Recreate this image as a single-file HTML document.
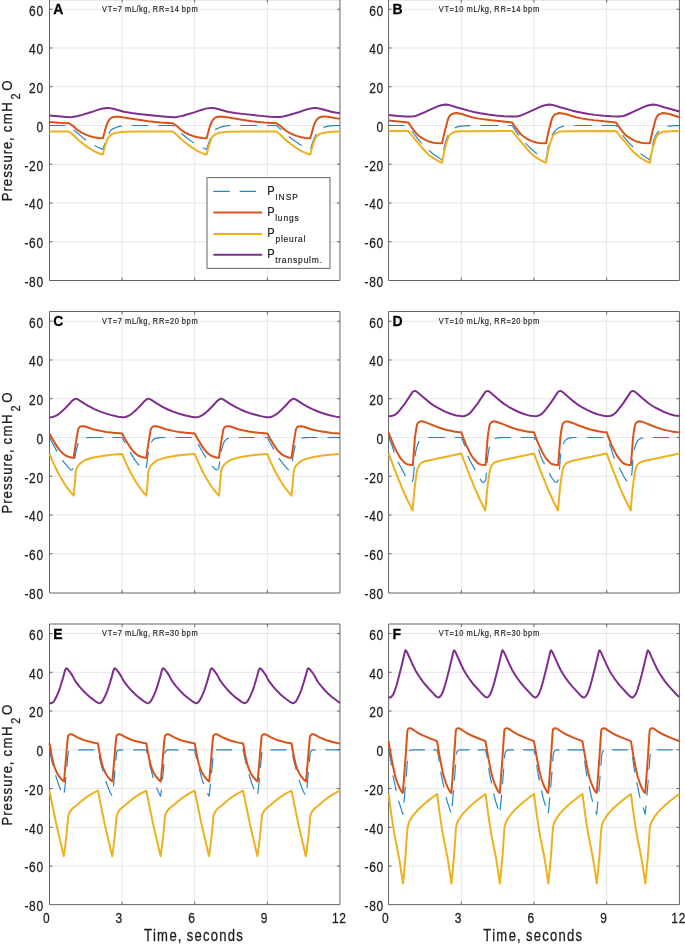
<!DOCTYPE html>
<html><head><meta charset="utf-8"><style>html,body{margin:0;padding:0;background:#fff;overflow:hidden;}svg{display:block;will-change:transform;}</style></head>
<body>
<svg width="685" height="948" viewBox="0 0 685 948">
<rect width="685" height="948" fill="#fff"/>
<path d="M49.50 241.78H339.95M49.50 203.02H339.95M49.50 164.26H339.95M49.50 125.50H339.95M49.50 86.74H339.95M49.50 47.98H339.95M49.50 9.22H339.95M122.11 -0.35V280.50M194.72 -0.35V280.50M267.34 -0.35V280.50" stroke="#e6e6e6" stroke-width="1" fill="none"/>
<path d="M49.50 241.78h2.9M339.95 241.78h-2.9M49.50 203.02h2.9M339.95 203.02h-2.9M49.50 164.26h2.9M339.95 164.26h-2.9M49.50 125.50h2.9M339.95 125.50h-2.9M49.50 86.74h2.9M339.95 86.74h-2.9M49.50 47.98h2.9M339.95 47.98h-2.9M49.50 9.22h2.9M339.95 9.22h-2.9M122.11 280.50v-2.9M122.11 -0.35v2.9M194.72 280.50v-2.9M194.72 -0.35v2.9M267.34 280.50v-2.9M267.34 -0.35v2.9" stroke="#646464" stroke-width="1" fill="none"/>
<path d="M49.50 -0.35H339.95V280.50H49.50Z" stroke="#646464" stroke-width="1" fill="none"/>
<g font-family="Liberation Sans" font-size="13.3" fill="#1e1e1e" stroke="#1e1e1e" stroke-width="0.25"><text transform="translate(26.49 286.80) scale(0.9 1.07)" text-anchor="middle">-</text><text transform="translate(32.40 286.80) scale(0.9 1.07)" text-anchor="middle">8</text><text transform="translate(39.80 286.80) scale(0.9 1.07)" text-anchor="middle">0</text></g>
<g font-family="Liberation Sans" font-size="13.3" fill="#1e1e1e" stroke="#1e1e1e" stroke-width="0.25"><text transform="translate(26.49 248.08) scale(0.9 1.07)" text-anchor="middle">-</text><text transform="translate(32.40 248.08) scale(0.9 1.07)" text-anchor="middle">6</text><text transform="translate(39.80 248.08) scale(0.9 1.07)" text-anchor="middle">0</text></g>
<g font-family="Liberation Sans" font-size="13.3" fill="#1e1e1e" stroke="#1e1e1e" stroke-width="0.25"><text transform="translate(26.49 209.32) scale(0.9 1.07)" text-anchor="middle">-</text><text transform="translate(32.40 209.32) scale(0.9 1.07)" text-anchor="middle">4</text><text transform="translate(39.80 209.32) scale(0.9 1.07)" text-anchor="middle">0</text></g>
<g font-family="Liberation Sans" font-size="13.3" fill="#1e1e1e" stroke="#1e1e1e" stroke-width="0.25"><text transform="translate(26.49 170.56) scale(0.9 1.07)" text-anchor="middle">-</text><text transform="translate(32.40 170.56) scale(0.9 1.07)" text-anchor="middle">2</text><text transform="translate(39.80 170.56) scale(0.9 1.07)" text-anchor="middle">0</text></g>
<g font-family="Liberation Sans" font-size="13.3" fill="#1e1e1e" stroke="#1e1e1e" stroke-width="0.25"><text transform="translate(39.80 131.80) scale(0.9 1.07)" text-anchor="middle">0</text></g>
<g font-family="Liberation Sans" font-size="13.3" fill="#1e1e1e" stroke="#1e1e1e" stroke-width="0.25"><text transform="translate(32.40 93.04) scale(0.9 1.07)" text-anchor="middle">2</text><text transform="translate(39.80 93.04) scale(0.9 1.07)" text-anchor="middle">0</text></g>
<g font-family="Liberation Sans" font-size="13.3" fill="#1e1e1e" stroke="#1e1e1e" stroke-width="0.25"><text transform="translate(32.40 54.28) scale(0.9 1.07)" text-anchor="middle">4</text><text transform="translate(39.80 54.28) scale(0.9 1.07)" text-anchor="middle">0</text></g>
<g font-family="Liberation Sans" font-size="13.3" fill="#1e1e1e" stroke="#1e1e1e" stroke-width="0.25"><text transform="translate(32.40 15.52) scale(0.9 1.07)" text-anchor="middle">6</text><text transform="translate(39.80 15.52) scale(0.9 1.07)" text-anchor="middle">0</text></g>
<g font-family="Liberation Sans" font-size="14" fill="#000" stroke="#000" stroke-width="0.26" font-weight="bold"><text transform="translate(58.36 14.45) scale(1.0 1.0)" text-anchor="middle">A</text></g>
<g font-family="Liberation Sans" font-size="8.5" fill="#1e1e1e" stroke="#1e1e1e" stroke-width="0.16"><text transform="translate(104.55 12.13) scale(0.88 1.13)" text-anchor="middle">V</text><text transform="translate(109.98 12.13) scale(0.88 1.13)" text-anchor="middle">T</text><text transform="translate(115.06 12.13) scale(0.88 1.13)" text-anchor="middle">=</text><text transform="translate(119.90 12.13) scale(0.88 1.13)" text-anchor="middle">7</text><text transform="translate(128.17 12.13) scale(0.88 1.13)" text-anchor="middle">m</text><text transform="translate(134.07 12.13) scale(0.88 1.13)" text-anchor="middle">L</text><text transform="translate(137.61 12.13) scale(0.88 1.13)" text-anchor="middle">/</text><text transform="translate(140.92 12.13) scale(0.88 1.13)" text-anchor="middle">k</text><text transform="translate(145.41 12.13) scale(0.88 1.13)" text-anchor="middle">g</text><text transform="translate(148.95 12.13) scale(0.88 1.13)" text-anchor="middle">,</text><text transform="translate(155.57 12.13) scale(0.88 1.13)" text-anchor="middle">R</text><text transform="translate(161.70 12.13) scale(0.88 1.13)" text-anchor="middle">R</text><text transform="translate(167.25 12.13) scale(0.88 1.13)" text-anchor="middle">=</text><text transform="translate(172.10 12.13) scale(0.88 1.13)" text-anchor="middle">1</text><text transform="translate(176.83 12.13) scale(0.88 1.13)" text-anchor="middle">4</text><text transform="translate(183.92 12.13) scale(0.88 1.13)" text-anchor="middle">b</text><text transform="translate(188.64 12.13) scale(0.88 1.13)" text-anchor="middle">p</text><text transform="translate(194.55 12.13) scale(0.88 1.13)" text-anchor="middle">m</text></g>
<g transform="translate(12.4 201.97) rotate(-90)"><g font-family="Liberation Sans" font-size="15.2" fill="#1e1e1e" stroke="#1e1e1e" stroke-width="0.29"><text transform="translate(5.07 0.00) scale(0.87 1.0)" text-anchor="middle">P</text><text transform="translate(12.67 0.00) scale(0.87 1.0)" text-anchor="middle">r</text><text transform="translate(19.43 0.00) scale(0.87 1.0)" text-anchor="middle">e</text><text transform="translate(27.45 0.00) scale(0.87 1.0)" text-anchor="middle">s</text><text transform="translate(35.05 0.00) scale(0.87 1.0)" text-anchor="middle">s</text><text transform="translate(43.08 0.00) scale(0.87 1.0)" text-anchor="middle">u</text><text transform="translate(49.84 0.00) scale(0.87 1.0)" text-anchor="middle">r</text><text transform="translate(56.60 0.00) scale(0.87 1.0)" text-anchor="middle">e</text><text transform="translate(62.93 0.00) scale(0.87 1.0)" text-anchor="middle">,</text><text transform="translate(73.07 0.00) scale(0.87 1.0)" text-anchor="middle">c</text><text transform="translate(83.20 0.00) scale(0.87 1.0)" text-anchor="middle">m</text><text transform="translate(95.02 0.00) scale(0.87 1.0)" text-anchor="middle">H</text></g><g font-family="Liberation Sans" font-size="12.6" fill="#1e1e1e" stroke="#1e1e1e" stroke-width="0.24"><text transform="translate(105.61 7.20) scale(0.87 1.0)" text-anchor="middle">2</text></g><g font-family="Liberation Sans" font-size="15.2" fill="#1e1e1e" stroke="#1e1e1e" stroke-width="0.29"><text transform="translate(116.43 0.00) scale(0.87 1.0)" text-anchor="middle">O</text></g></g>
<path d="M388.60 241.78H679.40M388.60 203.02H679.40M388.60 164.26H679.40M388.60 125.50H679.40M388.60 86.74H679.40M388.60 47.98H679.40M388.60 9.22H679.40M461.30 -0.35V280.50M534.00 -0.35V280.50M606.70 -0.35V280.50" stroke="#e6e6e6" stroke-width="1" fill="none"/>
<path d="M388.60 241.78h2.9M679.40 241.78h-2.9M388.60 203.02h2.9M679.40 203.02h-2.9M388.60 164.26h2.9M679.40 164.26h-2.9M388.60 125.50h2.9M679.40 125.50h-2.9M388.60 86.74h2.9M679.40 86.74h-2.9M388.60 47.98h2.9M679.40 47.98h-2.9M388.60 9.22h2.9M679.40 9.22h-2.9M461.30 280.50v-2.9M461.30 -0.35v2.9M534.00 280.50v-2.9M534.00 -0.35v2.9M606.70 280.50v-2.9M606.70 -0.35v2.9" stroke="#646464" stroke-width="1" fill="none"/>
<path d="M388.60 -0.35H679.40V280.50H388.60Z" stroke="#646464" stroke-width="1" fill="none"/>
<g font-family="Liberation Sans" font-size="13.3" fill="#1e1e1e" stroke="#1e1e1e" stroke-width="0.25"><text transform="translate(366.59 286.80) scale(0.9 1.07)" text-anchor="middle">-</text><text transform="translate(372.50 286.80) scale(0.9 1.07)" text-anchor="middle">8</text><text transform="translate(379.90 286.80) scale(0.9 1.07)" text-anchor="middle">0</text></g>
<g font-family="Liberation Sans" font-size="13.3" fill="#1e1e1e" stroke="#1e1e1e" stroke-width="0.25"><text transform="translate(366.59 248.08) scale(0.9 1.07)" text-anchor="middle">-</text><text transform="translate(372.50 248.08) scale(0.9 1.07)" text-anchor="middle">6</text><text transform="translate(379.90 248.08) scale(0.9 1.07)" text-anchor="middle">0</text></g>
<g font-family="Liberation Sans" font-size="13.3" fill="#1e1e1e" stroke="#1e1e1e" stroke-width="0.25"><text transform="translate(366.59 209.32) scale(0.9 1.07)" text-anchor="middle">-</text><text transform="translate(372.50 209.32) scale(0.9 1.07)" text-anchor="middle">4</text><text transform="translate(379.90 209.32) scale(0.9 1.07)" text-anchor="middle">0</text></g>
<g font-family="Liberation Sans" font-size="13.3" fill="#1e1e1e" stroke="#1e1e1e" stroke-width="0.25"><text transform="translate(366.59 170.56) scale(0.9 1.07)" text-anchor="middle">-</text><text transform="translate(372.50 170.56) scale(0.9 1.07)" text-anchor="middle">2</text><text transform="translate(379.90 170.56) scale(0.9 1.07)" text-anchor="middle">0</text></g>
<g font-family="Liberation Sans" font-size="13.3" fill="#1e1e1e" stroke="#1e1e1e" stroke-width="0.25"><text transform="translate(379.90 131.80) scale(0.9 1.07)" text-anchor="middle">0</text></g>
<g font-family="Liberation Sans" font-size="13.3" fill="#1e1e1e" stroke="#1e1e1e" stroke-width="0.25"><text transform="translate(372.50 93.04) scale(0.9 1.07)" text-anchor="middle">2</text><text transform="translate(379.90 93.04) scale(0.9 1.07)" text-anchor="middle">0</text></g>
<g font-family="Liberation Sans" font-size="13.3" fill="#1e1e1e" stroke="#1e1e1e" stroke-width="0.25"><text transform="translate(372.50 54.28) scale(0.9 1.07)" text-anchor="middle">4</text><text transform="translate(379.90 54.28) scale(0.9 1.07)" text-anchor="middle">0</text></g>
<g font-family="Liberation Sans" font-size="13.3" fill="#1e1e1e" stroke="#1e1e1e" stroke-width="0.25"><text transform="translate(372.50 15.52) scale(0.9 1.07)" text-anchor="middle">6</text><text transform="translate(379.90 15.52) scale(0.9 1.07)" text-anchor="middle">0</text></g>
<g font-family="Liberation Sans" font-size="14" fill="#000" stroke="#000" stroke-width="0.26" font-weight="bold"><text transform="translate(397.46 14.45) scale(1.0 1.0)" text-anchor="middle">B</text></g>
<g font-family="Liberation Sans" font-size="8.5" fill="#1e1e1e" stroke="#1e1e1e" stroke-width="0.16"><text transform="translate(441.28 12.13) scale(0.88 1.13)" text-anchor="middle">V</text><text transform="translate(446.71 12.13) scale(0.88 1.13)" text-anchor="middle">T</text><text transform="translate(451.79 12.13) scale(0.88 1.13)" text-anchor="middle">=</text><text transform="translate(456.64 12.13) scale(0.88 1.13)" text-anchor="middle">1</text><text transform="translate(461.36 12.13) scale(0.88 1.13)" text-anchor="middle">0</text><text transform="translate(469.63 12.13) scale(0.88 1.13)" text-anchor="middle">m</text><text transform="translate(475.53 12.13) scale(0.88 1.13)" text-anchor="middle">L</text><text transform="translate(479.08 12.13) scale(0.88 1.13)" text-anchor="middle">/</text><text transform="translate(482.38 12.13) scale(0.88 1.13)" text-anchor="middle">k</text><text transform="translate(486.87 12.13) scale(0.88 1.13)" text-anchor="middle">g</text><text transform="translate(490.42 12.13) scale(0.88 1.13)" text-anchor="middle">,</text><text transform="translate(497.03 12.13) scale(0.88 1.13)" text-anchor="middle">R</text><text transform="translate(503.17 12.13) scale(0.88 1.13)" text-anchor="middle">R</text><text transform="translate(508.72 12.13) scale(0.88 1.13)" text-anchor="middle">=</text><text transform="translate(513.56 12.13) scale(0.88 1.13)" text-anchor="middle">1</text><text transform="translate(518.29 12.13) scale(0.88 1.13)" text-anchor="middle">4</text><text transform="translate(525.38 12.13) scale(0.88 1.13)" text-anchor="middle">b</text><text transform="translate(530.11 12.13) scale(0.88 1.13)" text-anchor="middle">p</text><text transform="translate(536.01 12.13) scale(0.88 1.13)" text-anchor="middle">m</text></g>
<path d="M49.50 553.78H339.95M49.50 515.02H339.95M49.50 476.26H339.95M49.50 437.50H339.95M49.50 398.74H339.95M49.50 359.98H339.95M49.50 321.22H339.95M122.11 311.50V593.00M194.72 311.50V593.00M267.34 311.50V593.00" stroke="#e6e6e6" stroke-width="1" fill="none"/>
<path d="M49.50 553.78h2.9M339.95 553.78h-2.9M49.50 515.02h2.9M339.95 515.02h-2.9M49.50 476.26h2.9M339.95 476.26h-2.9M49.50 437.50h2.9M339.95 437.50h-2.9M49.50 398.74h2.9M339.95 398.74h-2.9M49.50 359.98h2.9M339.95 359.98h-2.9M49.50 321.22h2.9M339.95 321.22h-2.9M122.11 593.00v-2.9M122.11 311.50v2.9M194.72 593.00v-2.9M194.72 311.50v2.9M267.34 593.00v-2.9M267.34 311.50v2.9" stroke="#646464" stroke-width="1" fill="none"/>
<path d="M49.50 311.50H339.95V593.00H49.50Z" stroke="#646464" stroke-width="1" fill="none"/>
<g font-family="Liberation Sans" font-size="13.3" fill="#1e1e1e" stroke="#1e1e1e" stroke-width="0.25"><text transform="translate(26.49 599.30) scale(0.9 1.07)" text-anchor="middle">-</text><text transform="translate(32.40 599.30) scale(0.9 1.07)" text-anchor="middle">8</text><text transform="translate(39.80 599.30) scale(0.9 1.07)" text-anchor="middle">0</text></g>
<g font-family="Liberation Sans" font-size="13.3" fill="#1e1e1e" stroke="#1e1e1e" stroke-width="0.25"><text transform="translate(26.49 560.08) scale(0.9 1.07)" text-anchor="middle">-</text><text transform="translate(32.40 560.08) scale(0.9 1.07)" text-anchor="middle">6</text><text transform="translate(39.80 560.08) scale(0.9 1.07)" text-anchor="middle">0</text></g>
<g font-family="Liberation Sans" font-size="13.3" fill="#1e1e1e" stroke="#1e1e1e" stroke-width="0.25"><text transform="translate(26.49 521.32) scale(0.9 1.07)" text-anchor="middle">-</text><text transform="translate(32.40 521.32) scale(0.9 1.07)" text-anchor="middle">4</text><text transform="translate(39.80 521.32) scale(0.9 1.07)" text-anchor="middle">0</text></g>
<g font-family="Liberation Sans" font-size="13.3" fill="#1e1e1e" stroke="#1e1e1e" stroke-width="0.25"><text transform="translate(26.49 482.56) scale(0.9 1.07)" text-anchor="middle">-</text><text transform="translate(32.40 482.56) scale(0.9 1.07)" text-anchor="middle">2</text><text transform="translate(39.80 482.56) scale(0.9 1.07)" text-anchor="middle">0</text></g>
<g font-family="Liberation Sans" font-size="13.3" fill="#1e1e1e" stroke="#1e1e1e" stroke-width="0.25"><text transform="translate(39.80 443.80) scale(0.9 1.07)" text-anchor="middle">0</text></g>
<g font-family="Liberation Sans" font-size="13.3" fill="#1e1e1e" stroke="#1e1e1e" stroke-width="0.25"><text transform="translate(32.40 405.04) scale(0.9 1.07)" text-anchor="middle">2</text><text transform="translate(39.80 405.04) scale(0.9 1.07)" text-anchor="middle">0</text></g>
<g font-family="Liberation Sans" font-size="13.3" fill="#1e1e1e" stroke="#1e1e1e" stroke-width="0.25"><text transform="translate(32.40 366.28) scale(0.9 1.07)" text-anchor="middle">4</text><text transform="translate(39.80 366.28) scale(0.9 1.07)" text-anchor="middle">0</text></g>
<g font-family="Liberation Sans" font-size="13.3" fill="#1e1e1e" stroke="#1e1e1e" stroke-width="0.25"><text transform="translate(32.40 327.52) scale(0.9 1.07)" text-anchor="middle">6</text><text transform="translate(39.80 327.52) scale(0.9 1.07)" text-anchor="middle">0</text></g>
<g font-family="Liberation Sans" font-size="14" fill="#000" stroke="#000" stroke-width="0.26" font-weight="bold"><text transform="translate(58.36 326.30) scale(1.0 1.0)" text-anchor="middle">C</text></g>
<g font-family="Liberation Sans" font-size="8.5" fill="#1e1e1e" stroke="#1e1e1e" stroke-width="0.16"><text transform="translate(104.55 324.13) scale(0.88 1.13)" text-anchor="middle">V</text><text transform="translate(109.98 324.13) scale(0.88 1.13)" text-anchor="middle">T</text><text transform="translate(115.06 324.13) scale(0.88 1.13)" text-anchor="middle">=</text><text transform="translate(119.90 324.13) scale(0.88 1.13)" text-anchor="middle">7</text><text transform="translate(128.17 324.13) scale(0.88 1.13)" text-anchor="middle">m</text><text transform="translate(134.07 324.13) scale(0.88 1.13)" text-anchor="middle">L</text><text transform="translate(137.61 324.13) scale(0.88 1.13)" text-anchor="middle">/</text><text transform="translate(140.92 324.13) scale(0.88 1.13)" text-anchor="middle">k</text><text transform="translate(145.41 324.13) scale(0.88 1.13)" text-anchor="middle">g</text><text transform="translate(148.95 324.13) scale(0.88 1.13)" text-anchor="middle">,</text><text transform="translate(155.57 324.13) scale(0.88 1.13)" text-anchor="middle">R</text><text transform="translate(161.70 324.13) scale(0.88 1.13)" text-anchor="middle">R</text><text transform="translate(167.25 324.13) scale(0.88 1.13)" text-anchor="middle">=</text><text transform="translate(172.10 324.13) scale(0.88 1.13)" text-anchor="middle">2</text><text transform="translate(176.83 324.13) scale(0.88 1.13)" text-anchor="middle">0</text><text transform="translate(183.92 324.13) scale(0.88 1.13)" text-anchor="middle">b</text><text transform="translate(188.64 324.13) scale(0.88 1.13)" text-anchor="middle">p</text><text transform="translate(194.55 324.13) scale(0.88 1.13)" text-anchor="middle">m</text></g>
<g transform="translate(12.4 514.15) rotate(-90)"><g font-family="Liberation Sans" font-size="15.2" fill="#1e1e1e" stroke="#1e1e1e" stroke-width="0.29"><text transform="translate(5.07 0.00) scale(0.87 1.0)" text-anchor="middle">P</text><text transform="translate(12.67 0.00) scale(0.87 1.0)" text-anchor="middle">r</text><text transform="translate(19.43 0.00) scale(0.87 1.0)" text-anchor="middle">e</text><text transform="translate(27.45 0.00) scale(0.87 1.0)" text-anchor="middle">s</text><text transform="translate(35.05 0.00) scale(0.87 1.0)" text-anchor="middle">s</text><text transform="translate(43.08 0.00) scale(0.87 1.0)" text-anchor="middle">u</text><text transform="translate(49.84 0.00) scale(0.87 1.0)" text-anchor="middle">r</text><text transform="translate(56.60 0.00) scale(0.87 1.0)" text-anchor="middle">e</text><text transform="translate(62.93 0.00) scale(0.87 1.0)" text-anchor="middle">,</text><text transform="translate(73.07 0.00) scale(0.87 1.0)" text-anchor="middle">c</text><text transform="translate(83.20 0.00) scale(0.87 1.0)" text-anchor="middle">m</text><text transform="translate(95.02 0.00) scale(0.87 1.0)" text-anchor="middle">H</text></g><g font-family="Liberation Sans" font-size="12.6" fill="#1e1e1e" stroke="#1e1e1e" stroke-width="0.24"><text transform="translate(105.61 7.20) scale(0.87 1.0)" text-anchor="middle">2</text></g><g font-family="Liberation Sans" font-size="15.2" fill="#1e1e1e" stroke="#1e1e1e" stroke-width="0.29"><text transform="translate(116.43 0.00) scale(0.87 1.0)" text-anchor="middle">O</text></g></g>
<path d="M388.60 553.78H679.40M388.60 515.02H679.40M388.60 476.26H679.40M388.60 437.50H679.40M388.60 398.74H679.40M388.60 359.98H679.40M388.60 321.22H679.40M461.30 311.50V593.00M534.00 311.50V593.00M606.70 311.50V593.00" stroke="#e6e6e6" stroke-width="1" fill="none"/>
<path d="M388.60 553.78h2.9M679.40 553.78h-2.9M388.60 515.02h2.9M679.40 515.02h-2.9M388.60 476.26h2.9M679.40 476.26h-2.9M388.60 437.50h2.9M679.40 437.50h-2.9M388.60 398.74h2.9M679.40 398.74h-2.9M388.60 359.98h2.9M679.40 359.98h-2.9M388.60 321.22h2.9M679.40 321.22h-2.9M461.30 593.00v-2.9M461.30 311.50v2.9M534.00 593.00v-2.9M534.00 311.50v2.9M606.70 593.00v-2.9M606.70 311.50v2.9" stroke="#646464" stroke-width="1" fill="none"/>
<path d="M388.60 311.50H679.40V593.00H388.60Z" stroke="#646464" stroke-width="1" fill="none"/>
<g font-family="Liberation Sans" font-size="13.3" fill="#1e1e1e" stroke="#1e1e1e" stroke-width="0.25"><text transform="translate(366.59 599.30) scale(0.9 1.07)" text-anchor="middle">-</text><text transform="translate(372.50 599.30) scale(0.9 1.07)" text-anchor="middle">8</text><text transform="translate(379.90 599.30) scale(0.9 1.07)" text-anchor="middle">0</text></g>
<g font-family="Liberation Sans" font-size="13.3" fill="#1e1e1e" stroke="#1e1e1e" stroke-width="0.25"><text transform="translate(366.59 560.08) scale(0.9 1.07)" text-anchor="middle">-</text><text transform="translate(372.50 560.08) scale(0.9 1.07)" text-anchor="middle">6</text><text transform="translate(379.90 560.08) scale(0.9 1.07)" text-anchor="middle">0</text></g>
<g font-family="Liberation Sans" font-size="13.3" fill="#1e1e1e" stroke="#1e1e1e" stroke-width="0.25"><text transform="translate(366.59 521.32) scale(0.9 1.07)" text-anchor="middle">-</text><text transform="translate(372.50 521.32) scale(0.9 1.07)" text-anchor="middle">4</text><text transform="translate(379.90 521.32) scale(0.9 1.07)" text-anchor="middle">0</text></g>
<g font-family="Liberation Sans" font-size="13.3" fill="#1e1e1e" stroke="#1e1e1e" stroke-width="0.25"><text transform="translate(366.59 482.56) scale(0.9 1.07)" text-anchor="middle">-</text><text transform="translate(372.50 482.56) scale(0.9 1.07)" text-anchor="middle">2</text><text transform="translate(379.90 482.56) scale(0.9 1.07)" text-anchor="middle">0</text></g>
<g font-family="Liberation Sans" font-size="13.3" fill="#1e1e1e" stroke="#1e1e1e" stroke-width="0.25"><text transform="translate(379.90 443.80) scale(0.9 1.07)" text-anchor="middle">0</text></g>
<g font-family="Liberation Sans" font-size="13.3" fill="#1e1e1e" stroke="#1e1e1e" stroke-width="0.25"><text transform="translate(372.50 405.04) scale(0.9 1.07)" text-anchor="middle">2</text><text transform="translate(379.90 405.04) scale(0.9 1.07)" text-anchor="middle">0</text></g>
<g font-family="Liberation Sans" font-size="13.3" fill="#1e1e1e" stroke="#1e1e1e" stroke-width="0.25"><text transform="translate(372.50 366.28) scale(0.9 1.07)" text-anchor="middle">4</text><text transform="translate(379.90 366.28) scale(0.9 1.07)" text-anchor="middle">0</text></g>
<g font-family="Liberation Sans" font-size="13.3" fill="#1e1e1e" stroke="#1e1e1e" stroke-width="0.25"><text transform="translate(372.50 327.52) scale(0.9 1.07)" text-anchor="middle">6</text><text transform="translate(379.90 327.52) scale(0.9 1.07)" text-anchor="middle">0</text></g>
<g font-family="Liberation Sans" font-size="14" fill="#000" stroke="#000" stroke-width="0.26" font-weight="bold"><text transform="translate(397.46 326.30) scale(1.0 1.0)" text-anchor="middle">D</text></g>
<g font-family="Liberation Sans" font-size="8.5" fill="#1e1e1e" stroke="#1e1e1e" stroke-width="0.16"><text transform="translate(441.28 324.13) scale(0.88 1.13)" text-anchor="middle">V</text><text transform="translate(446.71 324.13) scale(0.88 1.13)" text-anchor="middle">T</text><text transform="translate(451.79 324.13) scale(0.88 1.13)" text-anchor="middle">=</text><text transform="translate(456.64 324.13) scale(0.88 1.13)" text-anchor="middle">1</text><text transform="translate(461.36 324.13) scale(0.88 1.13)" text-anchor="middle">0</text><text transform="translate(469.63 324.13) scale(0.88 1.13)" text-anchor="middle">m</text><text transform="translate(475.53 324.13) scale(0.88 1.13)" text-anchor="middle">L</text><text transform="translate(479.08 324.13) scale(0.88 1.13)" text-anchor="middle">/</text><text transform="translate(482.38 324.13) scale(0.88 1.13)" text-anchor="middle">k</text><text transform="translate(486.87 324.13) scale(0.88 1.13)" text-anchor="middle">g</text><text transform="translate(490.42 324.13) scale(0.88 1.13)" text-anchor="middle">,</text><text transform="translate(497.03 324.13) scale(0.88 1.13)" text-anchor="middle">R</text><text transform="translate(503.17 324.13) scale(0.88 1.13)" text-anchor="middle">R</text><text transform="translate(508.72 324.13) scale(0.88 1.13)" text-anchor="middle">=</text><text transform="translate(513.56 324.13) scale(0.88 1.13)" text-anchor="middle">2</text><text transform="translate(518.29 324.13) scale(0.88 1.13)" text-anchor="middle">0</text><text transform="translate(525.38 324.13) scale(0.88 1.13)" text-anchor="middle">b</text><text transform="translate(530.11 324.13) scale(0.88 1.13)" text-anchor="middle">p</text><text transform="translate(536.01 324.13) scale(0.88 1.13)" text-anchor="middle">m</text></g>
<path d="M49.50 866.08H339.95M49.50 827.32H339.95M49.50 788.56H339.95M49.50 749.80H339.95M49.50 711.04H339.95M49.50 672.28H339.95M49.50 633.52H339.95M122.11 624.00V904.65M194.72 624.00V904.65M267.34 624.00V904.65" stroke="#e6e6e6" stroke-width="1" fill="none"/>
<path d="M49.50 866.08h2.9M339.95 866.08h-2.9M49.50 827.32h2.9M339.95 827.32h-2.9M49.50 788.56h2.9M339.95 788.56h-2.9M49.50 749.80h2.9M339.95 749.80h-2.9M49.50 711.04h2.9M339.95 711.04h-2.9M49.50 672.28h2.9M339.95 672.28h-2.9M49.50 633.52h2.9M339.95 633.52h-2.9M122.11 904.65v-2.9M122.11 624.00v2.9M194.72 904.65v-2.9M194.72 624.00v2.9M267.34 904.65v-2.9M267.34 624.00v2.9" stroke="#646464" stroke-width="1" fill="none"/>
<path d="M49.50 624.00H339.95V904.65H49.50Z" stroke="#646464" stroke-width="1" fill="none"/>
<g font-family="Liberation Sans" font-size="13.3" fill="#1e1e1e" stroke="#1e1e1e" stroke-width="0.25"><text transform="translate(26.49 910.95) scale(0.9 1.07)" text-anchor="middle">-</text><text transform="translate(32.40 910.95) scale(0.9 1.07)" text-anchor="middle">8</text><text transform="translate(39.80 910.95) scale(0.9 1.07)" text-anchor="middle">0</text></g>
<g font-family="Liberation Sans" font-size="13.3" fill="#1e1e1e" stroke="#1e1e1e" stroke-width="0.25"><text transform="translate(26.49 872.38) scale(0.9 1.07)" text-anchor="middle">-</text><text transform="translate(32.40 872.38) scale(0.9 1.07)" text-anchor="middle">6</text><text transform="translate(39.80 872.38) scale(0.9 1.07)" text-anchor="middle">0</text></g>
<g font-family="Liberation Sans" font-size="13.3" fill="#1e1e1e" stroke="#1e1e1e" stroke-width="0.25"><text transform="translate(26.49 833.62) scale(0.9 1.07)" text-anchor="middle">-</text><text transform="translate(32.40 833.62) scale(0.9 1.07)" text-anchor="middle">4</text><text transform="translate(39.80 833.62) scale(0.9 1.07)" text-anchor="middle">0</text></g>
<g font-family="Liberation Sans" font-size="13.3" fill="#1e1e1e" stroke="#1e1e1e" stroke-width="0.25"><text transform="translate(26.49 794.86) scale(0.9 1.07)" text-anchor="middle">-</text><text transform="translate(32.40 794.86) scale(0.9 1.07)" text-anchor="middle">2</text><text transform="translate(39.80 794.86) scale(0.9 1.07)" text-anchor="middle">0</text></g>
<g font-family="Liberation Sans" font-size="13.3" fill="#1e1e1e" stroke="#1e1e1e" stroke-width="0.25"><text transform="translate(39.80 756.10) scale(0.9 1.07)" text-anchor="middle">0</text></g>
<g font-family="Liberation Sans" font-size="13.3" fill="#1e1e1e" stroke="#1e1e1e" stroke-width="0.25"><text transform="translate(32.40 717.34) scale(0.9 1.07)" text-anchor="middle">2</text><text transform="translate(39.80 717.34) scale(0.9 1.07)" text-anchor="middle">0</text></g>
<g font-family="Liberation Sans" font-size="13.3" fill="#1e1e1e" stroke="#1e1e1e" stroke-width="0.25"><text transform="translate(32.40 678.58) scale(0.9 1.07)" text-anchor="middle">4</text><text transform="translate(39.80 678.58) scale(0.9 1.07)" text-anchor="middle">0</text></g>
<g font-family="Liberation Sans" font-size="13.3" fill="#1e1e1e" stroke="#1e1e1e" stroke-width="0.25"><text transform="translate(32.40 639.82) scale(0.9 1.07)" text-anchor="middle">6</text><text transform="translate(39.80 639.82) scale(0.9 1.07)" text-anchor="middle">0</text></g>
<g font-family="Liberation Sans" font-size="14" fill="#000" stroke="#000" stroke-width="0.26" font-weight="bold"><text transform="translate(57.97 638.80) scale(1.0 1.0)" text-anchor="middle">E</text></g>
<g font-family="Liberation Sans" font-size="8.5" fill="#1e1e1e" stroke="#1e1e1e" stroke-width="0.16"><text transform="translate(104.55 636.43) scale(0.88 1.13)" text-anchor="middle">V</text><text transform="translate(109.98 636.43) scale(0.88 1.13)" text-anchor="middle">T</text><text transform="translate(115.06 636.43) scale(0.88 1.13)" text-anchor="middle">=</text><text transform="translate(119.90 636.43) scale(0.88 1.13)" text-anchor="middle">7</text><text transform="translate(128.17 636.43) scale(0.88 1.13)" text-anchor="middle">m</text><text transform="translate(134.07 636.43) scale(0.88 1.13)" text-anchor="middle">L</text><text transform="translate(137.61 636.43) scale(0.88 1.13)" text-anchor="middle">/</text><text transform="translate(140.92 636.43) scale(0.88 1.13)" text-anchor="middle">k</text><text transform="translate(145.41 636.43) scale(0.88 1.13)" text-anchor="middle">g</text><text transform="translate(148.95 636.43) scale(0.88 1.13)" text-anchor="middle">,</text><text transform="translate(155.57 636.43) scale(0.88 1.13)" text-anchor="middle">R</text><text transform="translate(161.70 636.43) scale(0.88 1.13)" text-anchor="middle">R</text><text transform="translate(167.25 636.43) scale(0.88 1.13)" text-anchor="middle">=</text><text transform="translate(172.10 636.43) scale(0.88 1.13)" text-anchor="middle">3</text><text transform="translate(176.83 636.43) scale(0.88 1.13)" text-anchor="middle">0</text><text transform="translate(183.92 636.43) scale(0.88 1.13)" text-anchor="middle">b</text><text transform="translate(188.64 636.43) scale(0.88 1.13)" text-anchor="middle">p</text><text transform="translate(194.55 636.43) scale(0.88 1.13)" text-anchor="middle">m</text></g>
<g transform="translate(12.4 826.23) rotate(-90)"><g font-family="Liberation Sans" font-size="15.2" fill="#1e1e1e" stroke="#1e1e1e" stroke-width="0.29"><text transform="translate(5.07 0.00) scale(0.87 1.0)" text-anchor="middle">P</text><text transform="translate(12.67 0.00) scale(0.87 1.0)" text-anchor="middle">r</text><text transform="translate(19.43 0.00) scale(0.87 1.0)" text-anchor="middle">e</text><text transform="translate(27.45 0.00) scale(0.87 1.0)" text-anchor="middle">s</text><text transform="translate(35.05 0.00) scale(0.87 1.0)" text-anchor="middle">s</text><text transform="translate(43.08 0.00) scale(0.87 1.0)" text-anchor="middle">u</text><text transform="translate(49.84 0.00) scale(0.87 1.0)" text-anchor="middle">r</text><text transform="translate(56.60 0.00) scale(0.87 1.0)" text-anchor="middle">e</text><text transform="translate(62.93 0.00) scale(0.87 1.0)" text-anchor="middle">,</text><text transform="translate(73.07 0.00) scale(0.87 1.0)" text-anchor="middle">c</text><text transform="translate(83.20 0.00) scale(0.87 1.0)" text-anchor="middle">m</text><text transform="translate(95.02 0.00) scale(0.87 1.0)" text-anchor="middle">H</text></g><g font-family="Liberation Sans" font-size="12.6" fill="#1e1e1e" stroke="#1e1e1e" stroke-width="0.24"><text transform="translate(105.61 7.20) scale(0.87 1.0)" text-anchor="middle">2</text></g><g font-family="Liberation Sans" font-size="15.2" fill="#1e1e1e" stroke="#1e1e1e" stroke-width="0.29"><text transform="translate(116.43 0.00) scale(0.87 1.0)" text-anchor="middle">O</text></g></g>
<path d="M388.60 866.08H679.40M388.60 827.32H679.40M388.60 788.56H679.40M388.60 749.80H679.40M388.60 711.04H679.40M388.60 672.28H679.40M388.60 633.52H679.40M461.30 624.00V904.65M534.00 624.00V904.65M606.70 624.00V904.65" stroke="#e6e6e6" stroke-width="1" fill="none"/>
<path d="M388.60 866.08h2.9M679.40 866.08h-2.9M388.60 827.32h2.9M679.40 827.32h-2.9M388.60 788.56h2.9M679.40 788.56h-2.9M388.60 749.80h2.9M679.40 749.80h-2.9M388.60 711.04h2.9M679.40 711.04h-2.9M388.60 672.28h2.9M679.40 672.28h-2.9M388.60 633.52h2.9M679.40 633.52h-2.9M461.30 904.65v-2.9M461.30 624.00v2.9M534.00 904.65v-2.9M534.00 624.00v2.9M606.70 904.65v-2.9M606.70 624.00v2.9" stroke="#646464" stroke-width="1" fill="none"/>
<path d="M388.60 624.00H679.40V904.65H388.60Z" stroke="#646464" stroke-width="1" fill="none"/>
<g font-family="Liberation Sans" font-size="13.3" fill="#1e1e1e" stroke="#1e1e1e" stroke-width="0.25"><text transform="translate(366.59 910.95) scale(0.9 1.07)" text-anchor="middle">-</text><text transform="translate(372.50 910.95) scale(0.9 1.07)" text-anchor="middle">8</text><text transform="translate(379.90 910.95) scale(0.9 1.07)" text-anchor="middle">0</text></g>
<g font-family="Liberation Sans" font-size="13.3" fill="#1e1e1e" stroke="#1e1e1e" stroke-width="0.25"><text transform="translate(366.59 872.38) scale(0.9 1.07)" text-anchor="middle">-</text><text transform="translate(372.50 872.38) scale(0.9 1.07)" text-anchor="middle">6</text><text transform="translate(379.90 872.38) scale(0.9 1.07)" text-anchor="middle">0</text></g>
<g font-family="Liberation Sans" font-size="13.3" fill="#1e1e1e" stroke="#1e1e1e" stroke-width="0.25"><text transform="translate(366.59 833.62) scale(0.9 1.07)" text-anchor="middle">-</text><text transform="translate(372.50 833.62) scale(0.9 1.07)" text-anchor="middle">4</text><text transform="translate(379.90 833.62) scale(0.9 1.07)" text-anchor="middle">0</text></g>
<g font-family="Liberation Sans" font-size="13.3" fill="#1e1e1e" stroke="#1e1e1e" stroke-width="0.25"><text transform="translate(366.59 794.86) scale(0.9 1.07)" text-anchor="middle">-</text><text transform="translate(372.50 794.86) scale(0.9 1.07)" text-anchor="middle">2</text><text transform="translate(379.90 794.86) scale(0.9 1.07)" text-anchor="middle">0</text></g>
<g font-family="Liberation Sans" font-size="13.3" fill="#1e1e1e" stroke="#1e1e1e" stroke-width="0.25"><text transform="translate(379.90 756.10) scale(0.9 1.07)" text-anchor="middle">0</text></g>
<g font-family="Liberation Sans" font-size="13.3" fill="#1e1e1e" stroke="#1e1e1e" stroke-width="0.25"><text transform="translate(372.50 717.34) scale(0.9 1.07)" text-anchor="middle">2</text><text transform="translate(379.90 717.34) scale(0.9 1.07)" text-anchor="middle">0</text></g>
<g font-family="Liberation Sans" font-size="13.3" fill="#1e1e1e" stroke="#1e1e1e" stroke-width="0.25"><text transform="translate(372.50 678.58) scale(0.9 1.07)" text-anchor="middle">4</text><text transform="translate(379.90 678.58) scale(0.9 1.07)" text-anchor="middle">0</text></g>
<g font-family="Liberation Sans" font-size="13.3" fill="#1e1e1e" stroke="#1e1e1e" stroke-width="0.25"><text transform="translate(372.50 639.82) scale(0.9 1.07)" text-anchor="middle">6</text><text transform="translate(379.90 639.82) scale(0.9 1.07)" text-anchor="middle">0</text></g>
<g font-family="Liberation Sans" font-size="14" fill="#000" stroke="#000" stroke-width="0.26" font-weight="bold"><text transform="translate(396.68 638.80) scale(1.0 1.0)" text-anchor="middle">F</text></g>
<g font-family="Liberation Sans" font-size="8.5" fill="#1e1e1e" stroke="#1e1e1e" stroke-width="0.16"><text transform="translate(441.28 636.43) scale(0.88 1.13)" text-anchor="middle">V</text><text transform="translate(446.71 636.43) scale(0.88 1.13)" text-anchor="middle">T</text><text transform="translate(451.79 636.43) scale(0.88 1.13)" text-anchor="middle">=</text><text transform="translate(456.64 636.43) scale(0.88 1.13)" text-anchor="middle">1</text><text transform="translate(461.36 636.43) scale(0.88 1.13)" text-anchor="middle">0</text><text transform="translate(469.63 636.43) scale(0.88 1.13)" text-anchor="middle">m</text><text transform="translate(475.53 636.43) scale(0.88 1.13)" text-anchor="middle">L</text><text transform="translate(479.08 636.43) scale(0.88 1.13)" text-anchor="middle">/</text><text transform="translate(482.38 636.43) scale(0.88 1.13)" text-anchor="middle">k</text><text transform="translate(486.87 636.43) scale(0.88 1.13)" text-anchor="middle">g</text><text transform="translate(490.42 636.43) scale(0.88 1.13)" text-anchor="middle">,</text><text transform="translate(497.03 636.43) scale(0.88 1.13)" text-anchor="middle">R</text><text transform="translate(503.17 636.43) scale(0.88 1.13)" text-anchor="middle">R</text><text transform="translate(508.72 636.43) scale(0.88 1.13)" text-anchor="middle">=</text><text transform="translate(513.56 636.43) scale(0.88 1.13)" text-anchor="middle">3</text><text transform="translate(518.29 636.43) scale(0.88 1.13)" text-anchor="middle">0</text><text transform="translate(525.38 636.43) scale(0.88 1.13)" text-anchor="middle">b</text><text transform="translate(530.11 636.43) scale(0.88 1.13)" text-anchor="middle">p</text><text transform="translate(536.01 636.43) scale(0.88 1.13)" text-anchor="middle">m</text></g>
<g font-family="Liberation Sans" font-size="13.3" fill="#1e1e1e" stroke="#1e1e1e" stroke-width="0.25"><text transform="translate(46.30 923.40) scale(0.9 1.07)" text-anchor="middle">0</text></g>
<g font-family="Liberation Sans" font-size="13.3" fill="#1e1e1e" stroke="#1e1e1e" stroke-width="0.25"><text transform="translate(118.91 923.40) scale(0.9 1.07)" text-anchor="middle">3</text></g>
<g font-family="Liberation Sans" font-size="13.3" fill="#1e1e1e" stroke="#1e1e1e" stroke-width="0.25"><text transform="translate(191.53 923.40) scale(0.9 1.07)" text-anchor="middle">6</text></g>
<g font-family="Liberation Sans" font-size="13.3" fill="#1e1e1e" stroke="#1e1e1e" stroke-width="0.25"><text transform="translate(264.14 923.40) scale(0.9 1.07)" text-anchor="middle">9</text></g>
<g font-family="Liberation Sans" font-size="13.3" fill="#1e1e1e" stroke="#1e1e1e" stroke-width="0.25"><text transform="translate(335.25 923.40) scale(0.9 1.07)" text-anchor="middle">1</text><text transform="translate(342.65 923.40) scale(0.9 1.07)" text-anchor="middle">2</text></g>
<g font-family="Liberation Sans" font-size="15" fill="#1e1e1e" stroke="#1e1e1e" stroke-width="0.28"><text transform="translate(147.94 940.70) scale(0.87 1.07)" text-anchor="middle">T</text><text transform="translate(154.39 940.70) scale(0.87 1.07)" text-anchor="middle">i</text><text transform="translate(162.50 940.70) scale(0.87 1.07)" text-anchor="middle">m</text><text transform="translate(173.12 940.70) scale(0.87 1.07)" text-anchor="middle">e</text><text transform="translate(179.57 940.70) scale(0.87 1.07)" text-anchor="middle">,</text><text transform="translate(189.97 940.70) scale(0.87 1.07)" text-anchor="middle">s</text><text transform="translate(198.10 940.70) scale(0.87 1.07)" text-anchor="middle">e</text><text transform="translate(206.22 940.70) scale(0.87 1.07)" text-anchor="middle">c</text><text transform="translate(214.34 940.70) scale(0.87 1.07)" text-anchor="middle">o</text><text transform="translate(222.88 940.70) scale(0.87 1.07)" text-anchor="middle">n</text><text transform="translate(231.42 940.70) scale(0.87 1.07)" text-anchor="middle">d</text><text transform="translate(239.54 940.70) scale(0.87 1.07)" text-anchor="middle">s</text></g>
<g font-family="Liberation Sans" font-size="13.3" fill="#1e1e1e" stroke="#1e1e1e" stroke-width="0.25"><text transform="translate(385.40 923.40) scale(0.9 1.07)" text-anchor="middle">0</text></g>
<g font-family="Liberation Sans" font-size="13.3" fill="#1e1e1e" stroke="#1e1e1e" stroke-width="0.25"><text transform="translate(458.10 923.40) scale(0.9 1.07)" text-anchor="middle">3</text></g>
<g font-family="Liberation Sans" font-size="13.3" fill="#1e1e1e" stroke="#1e1e1e" stroke-width="0.25"><text transform="translate(530.80 923.40) scale(0.9 1.07)" text-anchor="middle">6</text></g>
<g font-family="Liberation Sans" font-size="13.3" fill="#1e1e1e" stroke="#1e1e1e" stroke-width="0.25"><text transform="translate(603.50 923.40) scale(0.9 1.07)" text-anchor="middle">9</text></g>
<g font-family="Liberation Sans" font-size="13.3" fill="#1e1e1e" stroke="#1e1e1e" stroke-width="0.25"><text transform="translate(674.70 923.40) scale(0.9 1.07)" text-anchor="middle">1</text><text transform="translate(682.10 923.40) scale(0.9 1.07)" text-anchor="middle">2</text></g>
<g font-family="Liberation Sans" font-size="15" fill="#1e1e1e" stroke="#1e1e1e" stroke-width="0.28"><text transform="translate(487.21 940.70) scale(0.87 1.07)" text-anchor="middle">T</text><text transform="translate(493.66 940.70) scale(0.87 1.07)" text-anchor="middle">i</text><text transform="translate(501.77 940.70) scale(0.87 1.07)" text-anchor="middle">m</text><text transform="translate(512.39 940.70) scale(0.87 1.07)" text-anchor="middle">e</text><text transform="translate(518.85 940.70) scale(0.87 1.07)" text-anchor="middle">,</text><text transform="translate(529.25 940.70) scale(0.87 1.07)" text-anchor="middle">s</text><text transform="translate(537.37 940.70) scale(0.87 1.07)" text-anchor="middle">e</text><text transform="translate(545.49 940.70) scale(0.87 1.07)" text-anchor="middle">c</text><text transform="translate(553.61 940.70) scale(0.87 1.07)" text-anchor="middle">o</text><text transform="translate(562.15 940.70) scale(0.87 1.07)" text-anchor="middle">n</text><text transform="translate(570.70 940.70) scale(0.87 1.07)" text-anchor="middle">d</text><text transform="translate(578.82 940.70) scale(0.87 1.07)" text-anchor="middle">s</text></g>
<path d="M49.50 125.50L68.98 125.50 77.09 132.82 83.75 138.39 87.86 141.54 90.77 143.46 94.28 145.46 99.36 147.99 102.87 149.53 104.93 143.11 106.74 138.39 109.77 132.05 110.74 130.47 111.58 129.51 113.28 128.61 116.06 127.48 118.60 126.67 121.14 126.08 125.50 125.54 132.16 125.50" stroke="#0072BD" stroke-width="1.2" fill="none" stroke-linejoin="round" stroke-dasharray="16 10" stroke-opacity="0.85"/>
<path d="M132.20 125.50L172.70 125.50 180.93 132.91 187.58 138.48 191.70 141.62 194.60 143.52 197.99 145.45 203.08 147.98 206.59 149.52 208.76 142.81 210.58 138.15 213.60 131.86 214.57 130.33 215.54 129.34 217.96 128.20 220.74 127.16 223.53 126.37 226.19 125.85 230.06 125.51 240.95 125.50" stroke="#0072BD" stroke-width="1.2" fill="none" stroke-linejoin="round" stroke-dasharray="16 10" stroke-opacity="0.85"/>
<path d="M241.00 125.50L276.41 125.50 284.64 132.89 291.30 138.46 295.41 141.60 298.32 143.51 301.71 145.44 306.67 147.91 310.30 149.52 312.48 142.86 314.29 138.19 317.32 131.89 318.29 130.36 319.13 129.44 321.07 128.47 323.73 127.41 326.27 126.62 328.70 126.06 333.05 125.54 339.95 125.50" stroke="#0072BD" stroke-width="1.2" fill="none" stroke-linejoin="round" stroke-dasharray="16 10" stroke-opacity="0.85"/>
<path d="M49.50 121.90L58.94 122.70 68.98 123.27 72.49 125.60 76.73 129.32 78.55 130.69 81.93 132.82 85.20 134.43 88.95 135.89 93.91 137.28 98.88 137.97 102.87 138.19 106.50 125.18 107.83 122.11 109.16 119.87 110.86 118.13 112.31 117.24 115.82 116.64 118.84 116.68 148.13 121.34 160.11 122.51 172.70 123.27 176.21 125.58 180.44 129.31 182.26 130.68 185.65 132.81 189.04 134.48 192.79 135.92 197.63 137.28 202.59 137.96 206.59 138.19 210.22 125.23 211.55 122.14 212.76 120.06 214.45 118.25 215.90 117.29 218.93 116.70 221.83 116.62 223.89 116.86 246.64 120.59 251.85 121.34 263.83 122.51 276.41 123.27 279.92 125.57 284.28 129.40 286.10 130.75 289.48 132.86 292.75 134.47 296.50 135.91 301.34 137.28 306.31 137.96 310.30 138.19 313.57 126.47 314.41 124.03 315.50 121.70 316.47 120.09 317.68 118.72 319.01 117.61 319.86 117.21 321.92 116.80 323.85 116.60 325.55 116.62 327.61 116.86 339.95 118.88" stroke="#D95319" stroke-width="2.0" fill="none" stroke-linejoin="round"/>
<path d="M49.50 131.51L68.98 131.51 72.37 134.30 77.09 138.83 79.51 140.93 83.51 144.08 87.74 147.12 92.58 150.28 95.00 151.66 99.24 153.46 102.87 154.57 104.20 149.03 105.41 144.85 107.47 139.10 108.20 137.57 108.80 136.67 111.10 134.75 112.31 134.03 113.64 133.45 117.39 132.56 121.99 131.91 125.26 131.70 136.76 131.53 172.70 131.51 176.09 134.29 180.81 138.81 183.23 140.91 187.22 144.07 191.46 147.10 196.30 150.27 198.72 151.65 202.95 153.45 206.59 154.57 208.88 145.66 210.70 140.37 211.79 137.82 212.52 136.69 214.21 135.20 215.90 134.11 217.72 133.33 220.14 132.75 223.29 132.20 228.73 131.71 243.38 131.52 276.41 131.51 279.80 134.27 284.52 138.80 286.94 140.90 290.94 144.05 295.17 147.09 300.01 150.26 302.43 151.64 306.67 153.45 310.30 154.56 312.36 146.52 314.66 139.79 315.38 138.10 315.99 137.03 317.80 135.30 319.38 134.25 321.07 133.46 322.40 133.07 325.79 132.40 331.24 131.77 339.95 131.58" stroke="#EDB120" stroke-width="2.0" fill="none" stroke-linejoin="round"/>
<path d="M49.50 115.47L63.66 116.82 69.47 117.15 72.13 117.06 76.61 116.28 81.33 115.14 91.49 112.08 97.06 110.13 101.66 108.74 104.69 108.20 107.59 107.96 109.65 108.12 113.28 108.78 123.93 111.69 131.43 113.02 138.69 113.90 160.36 116.21 167.13 116.80 173.43 117.15 174.88 117.15 176.33 116.99 179.84 116.38 182.99 115.67 194.97 112.16 200.66 110.17 204.89 108.87 207.19 108.37 211.06 107.97 213.24 108.10 216.99 108.78 227.64 111.68 235.02 113.00 242.17 113.87 263.34 116.13 270.36 116.77 276.17 117.12 279.56 117.06 283.19 116.45 286.22 115.79 289.24 115.01 298.56 112.20 304.37 110.18 308.48 108.91 310.78 108.39 314.17 107.99 316.59 108.05 320.47 108.72 331.48 111.71 335.35 112.47 339.95 113.16" stroke="#7E2F8E" stroke-width="2.0" fill="none" stroke-linejoin="round"/>
<path d="M388.60 125.50L408.23 125.50 412.23 131.50 416.10 136.74 419.86 141.33 423.50 145.22 428.10 149.65 432.58 153.47 436.82 156.58 442.16 160.00 443.25 152.78 444.22 147.40 445.31 142.99 446.64 138.67 447.73 135.97 448.94 133.89 451.00 131.08 452.94 129.08 454.39 128.04 455.85 127.40 458.39 126.63 461.06 126.14 469.30 125.53 482.14 125.50" stroke="#0072BD" stroke-width="1.2" fill="none" stroke-linejoin="round" stroke-dasharray="16 10" stroke-opacity="0.85"/>
<path d="M482.20 125.50L512.07 125.50 516.19 131.65 520.07 136.87 523.70 141.31 527.46 145.32 532.06 149.75 536.54 153.55 540.66 156.57 546.00 159.99 547.93 148.09 548.66 144.86 549.87 140.56 550.96 137.41 551.93 135.29 553.51 132.85 555.08 130.82 556.66 129.20 558.11 128.12 559.57 127.45 561.99 126.69 564.41 126.20 567.68 125.87 571.80 125.58 575.56 125.50" stroke="#0072BD" stroke-width="1.2" fill="none" stroke-linejoin="round" stroke-dasharray="16 10" stroke-opacity="0.85"/>
<path d="M575.60 125.50L615.91 125.50 620.15 131.79 623.91 136.85 627.54 141.29 631.30 145.30 635.90 149.73 640.38 153.54 644.50 156.56 649.84 159.98 651.77 148.18 652.50 144.93 653.71 140.61 654.80 137.45 655.77 135.32 657.35 132.88 658.92 130.84 660.50 129.22 661.95 128.13 663.41 127.46 665.83 126.69 668.25 126.21 671.40 125.88 675.64 125.58 679.40 125.50" stroke="#0072BD" stroke-width="1.2" fill="none" stroke-linejoin="round" stroke-dasharray="16 10" stroke-opacity="0.85"/>
<path d="M388.60 120.43L408.23 122.40 411.50 127.30 416.10 133.22 417.32 134.49 418.77 135.76 422.16 138.17 424.83 139.66 427.37 140.87 429.19 141.55 432.46 142.52 435.13 142.99 442.16 143.23 443.73 135.81 445.31 129.20 447.73 120.13 448.82 117.14 450.27 115.24 451.12 114.51 451.85 114.10 453.55 113.50 455.00 113.17 456.33 113.10 457.91 113.25 461.91 114.06 466.27 115.53 471.84 117.21 478.87 118.63 489.53 120.11 512.07 122.40 515.46 127.44 519.94 133.20 521.28 134.59 522.61 135.75 526.00 138.16 528.67 139.65 531.21 140.86 533.03 141.55 536.30 142.51 538.97 142.99 546.00 143.23 547.69 135.35 549.27 128.80 551.57 120.19 552.66 117.18 554.11 115.26 554.84 114.61 555.57 114.16 558.48 113.24 559.69 113.10 560.90 113.15 565.62 114.02 570.23 115.57 575.92 117.27 582.83 118.64 593.49 120.12 615.91 122.40 619.30 127.42 623.78 133.18 625.12 134.57 626.45 135.73 629.84 138.15 632.51 139.64 635.05 140.85 636.87 141.54 640.14 142.51 642.93 142.99 649.84 143.23 652.50 131.29 655.53 119.84 656.62 116.99 657.47 115.82 658.44 114.82 659.53 114.11 661.83 113.34 663.41 113.10 665.10 113.18 669.59 114.05 673.95 115.52 679.40 117.17" stroke="#D95319" stroke-width="2.0" fill="none" stroke-linejoin="round"/>
<path d="M388.60 131.12L408.23 131.12 422.53 148.28 425.68 151.72 428.10 154.15 431.13 156.66 434.40 158.90 438.52 161.19 442.16 162.81 443.73 153.90 445.06 147.69 447.00 141.04 448.58 136.78 449.67 134.99 451.49 133.57 453.91 132.24 455.12 131.82 456.33 131.57 462.03 131.28 468.93 131.13 512.07 131.12 526.37 148.26 529.52 151.71 531.94 154.13 534.97 156.65 538.24 158.89 542.36 161.18 546.00 162.80 547.57 153.99 548.78 148.26 550.24 143.04 551.81 138.28 552.66 136.32 553.51 135.01 555.45 133.50 557.51 132.35 558.96 131.82 560.41 131.54 569.26 131.18 615.91 131.12 630.33 148.38 633.48 151.81 635.78 154.12 638.81 156.64 642.08 158.88 646.20 161.18 649.84 162.79 651.65 152.84 653.11 146.40 655.53 138.65 656.50 136.35 657.35 135.02 658.80 133.85 660.50 132.78 662.07 132.06 663.65 131.63 670.31 131.26 679.40 131.12" stroke="#EDB120" stroke-width="2.0" fill="none" stroke-linejoin="round"/>
<path d="M388.60 115.05L398.05 116.00 405.93 116.49 410.29 116.57 414.41 116.26 416.23 115.79 418.41 114.94 423.98 112.54 429.68 109.85 438.16 106.10 441.19 105.20 443.85 104.72 445.67 104.57 447.49 104.69 449.55 105.09 456.33 107.24 469.42 110.89 473.90 111.98 480.44 113.25 488.08 114.49 495.71 115.41 503.83 116.15 511.58 116.56 514.25 116.57 517.40 116.38 519.94 115.83 527.58 112.65 533.52 109.86 541.75 106.20 544.90 105.23 547.57 104.74 549.27 104.58 551.21 104.67 553.39 105.09 560.17 107.24 572.41 110.66 576.89 111.79 581.98 112.82 588.65 114.00 594.83 114.88 603.67 115.82 610.82 116.35 618.09 116.57 621.48 116.36 623.30 115.98 625.48 115.21 631.30 112.71 637.36 109.87 645.59 106.20 648.62 105.26 652.74 104.60 654.92 104.65 657.35 105.12 664.13 107.27 679.40 111.47" stroke="#7E2F8E" stroke-width="2.0" fill="none" stroke-linejoin="round"/>
<path d="M49.50 437.50L57.12 451.75 61.48 458.92 64.26 462.69 69.11 468.44 70.32 469.54 71.28 469.86 71.77 469.74 72.61 469.19 73.70 467.93 74.79 458.53 75.64 453.22 77.21 446.49 77.94 444.08 78.55 442.59 80.12 440.28 81.57 438.95 83.75 438.22 86.65 437.71" stroke="#0072BD" stroke-width="1.2" fill="none" stroke-linejoin="round" stroke-dasharray="16 10" stroke-opacity="0.85"/>
<path d="M86.70 437.71L92.46 437.50 122.11 437.50 129.74 451.75 134.09 458.92 136.88 462.69 141.72 468.44 142.93 469.54 143.90 469.86 144.38 469.74 145.23 469.19 146.32 467.93 147.77 456.06 148.37 452.59 149.34 448.37 150.19 445.21 151.04 442.84 152.00 441.23 153.21 439.74 154.06 439.02 154.79 438.66 157.09 438.05 159.39 437.70 164.47 437.51 175.97 437.50" stroke="#0072BD" stroke-width="1.2" fill="none" stroke-linejoin="round" stroke-dasharray="16 10" stroke-opacity="0.85"/>
<path d="M176.00 437.50L194.72 437.50 202.35 451.75 206.71 458.92 209.49 462.69 214.33 468.44 215.54 469.54 216.51 469.86 216.99 469.74 217.84 469.19 218.93 467.93 220.02 458.53 221.11 452.00 222.92 444.82 223.65 442.84 224.50 441.41 225.46 440.13 226.43 439.20 227.16 438.76 228.37 438.37 230.31 437.93 232.36 437.66 238.78 437.50" stroke="#0072BD" stroke-width="1.2" fill="none" stroke-linejoin="round" stroke-dasharray="16 10" stroke-opacity="0.85"/>
<path d="M238.80 437.50L267.34 437.50 274.96 451.75 279.32 458.92 282.10 462.69 286.94 468.44 288.15 469.54 289.12 469.86 289.61 469.74 290.45 469.19 291.54 467.93 292.99 456.06 293.72 452.00 294.81 447.41 295.66 444.44 296.38 442.59 297.71 440.57 298.92 439.29 299.77 438.76 301.34 438.28 303.40 437.85 305.46 437.63 310.30 437.50 328.09 437.50" stroke="#0072BD" stroke-width="1.2" fill="none" stroke-linejoin="round" stroke-dasharray="16 10" stroke-opacity="0.85"/>
<path d="M328.10 437.50L339.95 437.50" stroke="#0072BD" stroke-width="1.2" fill="none" stroke-linejoin="round" stroke-dasharray="16 10" stroke-opacity="0.85"/>
<path d="M49.50 433.53L52.28 438.68 55.07 443.34 58.70 448.87 61.00 451.72 63.78 454.26 65.96 455.69 70.44 457.35 72.13 457.72 73.70 457.85 75.28 446.40 78.06 429.68 78.79 428.10 79.76 426.87 80.36 426.49 81.93 426.20 83.51 426.20 85.32 426.52 92.95 429.20 102.75 431.36 106.38 431.94 113.04 432.78 122.11 433.53 124.90 438.68 127.68 443.34 131.31 448.87 133.61 451.72 136.39 454.26 138.57 455.69 142.93 457.32 144.62 457.70 146.07 457.85 146.32 457.85 147.89 446.40 150.67 429.68 151.28 428.30 152.25 426.98 152.97 426.49 154.30 426.23 156.00 426.19 157.81 426.49 159.63 427.04 165.68 429.24 175.48 431.38 178.99 431.94 185.77 432.79 194.72 433.53 197.51 438.68 200.29 443.34 203.92 448.87 206.22 451.72 209.01 454.26 211.18 455.69 215.42 457.28 217.11 457.68 218.57 457.84 218.93 457.85 220.50 446.40 223.29 429.68 223.77 428.52 224.62 427.24 225.34 426.60 226.19 426.35 228.13 426.17 230.18 426.44 232.24 427.04 238.29 429.24 243.98 430.56 248.70 431.49 258.75 432.83 267.34 433.53 270.12 438.68 272.90 443.34 276.54 448.87 278.71 451.60 281.50 454.16 283.68 455.63 287.79 457.21 289.48 457.64 290.94 457.83 291.54 457.85 292.99 447.19 295.78 430.18 296.14 428.97 296.75 427.90 297.47 426.98 298.08 426.54 300.26 426.17 302.68 426.41 304.73 427.00 310.91 429.24 316.96 430.64 321.92 431.59 331.84 432.89 339.95 433.53" stroke="#D95319" stroke-width="2.0" fill="none" stroke-linejoin="round"/>
<path d="M49.50 453.97L52.53 461.10 55.43 467.45 58.21 473.05 61.00 478.11 64.39 483.58 67.65 488.35 70.80 492.42 73.70 495.64 74.91 483.04 75.76 472.04 76.12 470.14 76.61 468.53 77.21 467.18 78.06 465.80 79.39 464.32 81.93 462.13 83.99 460.72 85.93 459.74 88.95 458.69 92.46 457.76 96.46 456.94 102.27 455.94 111.22 454.82 122.11 453.97 125.14 461.10 128.04 467.45 130.83 473.05 133.61 478.11 137.00 483.58 140.27 488.35 143.41 492.42 146.32 495.64 147.53 483.04 148.25 473.23 148.62 470.65 149.34 468.21 150.31 466.34 151.40 464.93 153.34 463.12 155.88 461.17 158.18 459.89 161.69 458.66 165.80 457.60 173.06 456.24 179.36 455.31 187.58 454.47 194.72 453.97 197.75 461.10 200.66 467.45 203.44 473.05 206.22 478.11 209.61 483.58 212.88 488.35 216.02 492.42 218.93 495.64 220.14 483.04 220.87 473.23 221.23 470.65 221.95 468.21 222.92 466.34 224.01 464.93 225.95 463.12 228.49 461.17 230.79 459.89 234.30 458.66 238.41 457.60 245.67 456.24 251.97 455.31 260.20 454.47 267.34 453.97 270.36 461.10 273.27 467.45 276.05 473.05 278.83 478.11 282.22 483.58 285.49 488.35 288.64 492.42 291.54 495.64 292.75 483.04 293.48 473.23 293.84 470.65 294.57 468.21 295.54 466.34 296.62 464.93 298.56 463.12 301.10 461.17 303.40 459.89 306.91 458.66 311.03 457.60 318.29 456.24 324.58 455.31 332.81 454.47 339.95 453.97" stroke="#EDB120" stroke-width="2.0" fill="none" stroke-linejoin="round"/>
<path d="M49.50 417.26L51.44 417.33 52.89 416.99 55.67 415.92 58.33 414.36 60.63 412.58 63.30 410.10 68.38 405.00 70.92 402.07 72.25 400.79 73.34 399.90 74.55 399.17 75.40 398.76 76.00 398.64 76.85 398.86 78.67 399.85 84.35 403.63 89.19 406.43 94.40 409.07 99.00 411.10 104.56 413.11 110.49 414.85 118.00 416.67 122.60 417.30 124.41 417.28 126.95 416.49 129.13 415.48 131.07 414.28 133.25 412.58 135.91 410.10 140.99 405.00 143.53 402.07 144.86 400.79 145.95 399.90 147.16 399.17 148.01 398.76 148.62 398.64 149.46 398.86 151.28 399.85 157.09 403.70 162.05 406.56 167.37 409.24 172.09 411.29 178.15 413.42 184.68 415.25 191.22 416.79 194.36 417.22 196.30 417.34 197.63 417.14 200.29 416.20 202.47 415.07 204.16 413.92 206.10 412.36 208.64 409.98 213.60 405.00 216.15 402.07 217.48 400.79 218.57 399.90 219.78 399.17 220.62 398.76 221.23 398.64 222.08 398.86 223.89 399.85 229.70 403.70 234.90 406.69 240.47 409.47 245.31 411.52 248.94 412.83 252.69 414.01 261.89 416.38 264.19 416.85 266.97 417.22 268.79 417.34 269.76 417.26 272.18 416.49 273.51 415.92 275.32 414.93 277.14 413.65 278.83 412.26 281.38 409.86 286.22 405.00 288.76 402.07 290.09 400.79 291.30 399.81 292.51 399.10 293.36 398.72 293.96 398.65 294.69 398.86 296.50 399.85 302.19 403.63 306.79 406.30 311.87 408.89 316.59 411.00 322.04 412.99 327.73 414.69 335.59 416.62 339.95 417.26" stroke="#7E2F8E" stroke-width="2.0" fill="none" stroke-linejoin="round"/>
<path d="M388.60 437.50L390.05 440.52 391.75 444.72 392.72 447.47 395.14 455.65 397.32 460.68 402.53 470.21 406.41 477.92 409.08 481.49 409.93 482.23 410.65 482.46 411.38 482.22 412.11 481.63 412.83 480.33 413.08 479.42 413.92 471.92 414.53 462.36 415.14 455.51 415.74 451.74 416.35 448.92 417.07 446.37 418.29 442.98 419.01 441.42 419.62 440.53 420.83 439.48 422.04 438.72 423.37 438.18 425.56 437.68 426.89 437.51 428.95 437.50" stroke="#0072BD" stroke-width="1.2" fill="none" stroke-linejoin="round" stroke-dasharray="16 10" stroke-opacity="0.85"/>
<path d="M428.90 437.50L461.30 437.50 462.75 440.52 464.45 444.72 465.42 447.47 467.84 455.65 470.02 460.68 475.23 470.21 479.11 477.92 481.78 481.49 482.63 482.23 483.35 482.46 484.08 482.22 484.81 481.63 485.53 480.33 485.78 479.42 486.62 471.92 487.59 457.79 488.20 453.12 488.93 449.42 489.77 446.37 491.11 442.69 492.20 440.68 493.53 439.48 495.11 438.55 496.44 438.08 499.10 437.55 520.79 437.50" stroke="#0072BD" stroke-width="1.2" fill="none" stroke-linejoin="round" stroke-dasharray="16 10" stroke-opacity="0.85"/>
<path d="M520.80 437.50L534.00 437.50 535.45 440.52 537.15 444.72 538.12 447.47 540.54 455.65 542.72 460.68 547.93 470.21 551.81 477.92 554.48 481.49 555.33 482.23 556.05 482.46 556.78 482.22 557.51 481.63 558.23 480.33 558.48 479.42 559.32 471.92 560.29 457.79 560.90 453.12 561.63 449.42 562.35 446.75 563.69 442.98 564.78 440.84 565.99 439.67 567.56 438.66 568.90 438.15 571.32 437.62 572.77 437.50 587.31 437.50" stroke="#0072BD" stroke-width="1.2" fill="none" stroke-linejoin="round" stroke-dasharray="16 10" stroke-opacity="0.85"/>
<path d="M587.30 437.50L606.70 437.50 608.15 440.52 609.85 444.72 610.82 447.47 613.24 455.65 615.42 460.68 620.63 470.21 624.51 477.92 627.18 481.49 628.03 482.23 628.75 482.46 629.48 482.22 630.21 481.63 630.93 480.33 631.18 479.42 632.02 471.92 632.87 459.21 633.48 453.87 634.08 450.52 634.81 447.56 636.02 443.91 637.11 441.42 637.84 440.41 639.29 439.23 640.75 438.44 642.20 437.99 645.11 437.51 653.23 437.50" stroke="#0072BD" stroke-width="1.2" fill="none" stroke-linejoin="round" stroke-dasharray="16 10" stroke-opacity="0.85"/>
<path d="M653.20 437.50L679.40 437.50" stroke="#0072BD" stroke-width="1.2" fill="none" stroke-linejoin="round" stroke-dasharray="16 10" stroke-opacity="0.85"/>
<path d="M388.60 432.36L391.39 439.97 394.05 446.29 397.69 453.58 399.14 456.08 400.35 457.86 403.75 461.81 404.96 462.95 406.05 463.74 407.02 464.18 408.96 464.61 411.02 464.92 412.83 465.02 414.89 438.09 416.35 427.95 416.95 425.14 417.56 423.51 418.41 422.63 419.26 421.97 420.10 421.53 420.83 421.34 421.80 421.35 423.01 421.57 426.89 422.83 438.88 427.55 444.82 429.52 453.91 431.44 457.79 432.02 461.30 432.36 464.09 439.97 466.63 446.03 470.15 453.13 471.60 455.69 472.81 457.53 476.32 461.69 477.54 462.85 478.63 463.66 479.60 464.14 480.81 464.44 482.99 464.83 484.81 465.00 485.53 465.02 487.59 438.09 488.44 431.69 489.17 427.31 489.77 424.71 490.26 423.51 491.83 422.06 492.68 421.58 493.41 421.36 494.98 421.41 497.04 421.97 500.56 423.18 505.40 425.20 512.07 427.73 517.52 429.52 526.61 431.44 530.49 432.02 534.00 432.36 536.79 439.97 539.33 446.03 542.85 453.13 544.30 455.69 545.51 457.53 548.90 461.56 550.12 462.74 551.21 463.59 552.05 464.04 552.90 464.30 555.20 464.76 557.26 464.99 558.23 465.02 560.29 438.09 561.14 431.69 561.87 427.31 562.47 424.71 562.96 423.51 564.41 422.14 565.87 421.41 567.44 421.38 569.62 421.93 573.26 423.18 578.23 425.25 584.89 427.78 590.34 429.55 599.43 431.46 603.19 432.02 606.70 432.36 609.37 439.66 611.91 445.76 615.42 452.90 617.97 457.19 621.36 461.30 622.69 462.64 623.78 463.51 625.24 464.21 629.24 464.93 630.93 465.02 632.99 438.09 633.84 431.69 634.57 427.31 635.05 425.14 635.54 423.73 636.26 422.86 637.36 421.97 638.20 421.53 639.05 421.33 641.11 421.57 645.84 423.14 650.93 425.25 657.71 427.82 662.56 429.42 666.68 430.39 671.77 431.39 675.76 432.00 679.40 432.36" stroke="#D95319" stroke-width="2.0" fill="none" stroke-linejoin="round"/>
<path d="M388.60 453.59L395.26 471.21 402.29 488.55 407.26 499.76 412.59 510.56 413.56 498.80 414.53 489.04 415.38 481.87 416.59 473.68 417.20 470.34 417.68 468.45 418.89 465.80 420.10 464.00 421.07 463.06 422.53 462.21 424.22 461.56 427.25 460.70 461.30 453.59 467.96 471.21 474.99 488.55 479.96 499.76 485.29 510.56 486.38 497.47 487.59 485.78 489.05 475.22 490.14 469.29 490.50 468.12 491.47 466.03 492.32 464.63 493.17 463.60 494.02 462.89 495.11 462.27 498.13 461.19 502.50 460.11 534.00 453.59 540.66 471.21 547.69 488.55 552.66 499.76 557.99 510.56 558.96 498.80 559.93 489.04 560.78 481.87 561.99 473.68 562.60 470.34 563.08 468.45 564.29 465.80 565.50 464.00 566.47 463.06 567.93 462.21 569.62 461.56 572.65 460.70 606.70 453.59 613.36 471.21 620.39 488.55 625.36 499.76 630.69 510.56 631.66 498.80 632.63 489.04 633.48 481.87 634.69 473.68 635.30 470.34 635.78 468.45 636.99 465.80 638.20 464.00 639.17 463.06 640.63 462.21 642.32 461.56 645.35 460.70 679.40 453.59" stroke="#EDB120" stroke-width="2.0" fill="none" stroke-linejoin="round"/>
<path d="M388.60 416.11L390.90 416.15 393.20 415.57 395.02 414.78 397.20 413.15 400.60 409.14 405.08 403.29 412.47 392.11 412.95 391.64 413.44 391.41 414.41 391.09 415.26 390.99 416.10 391.32 418.65 393.24 427.49 400.85 430.64 403.38 433.92 405.60 437.91 407.93 444.46 411.31 450.52 413.77 453.06 414.59 456.21 415.41 460.69 416.06 463.36 416.17 465.30 415.76 467.48 414.92 469.78 413.26 470.87 412.10 473.30 409.14 477.78 403.29 485.17 392.11 485.65 391.64 486.14 391.41 487.11 391.09 487.96 390.99 488.80 391.32 491.35 393.24 500.56 401.15 504.07 403.91 508.56 406.77 514.98 410.25 518.13 411.75 521.88 413.28 524.79 414.30 527.70 415.11 530.37 415.69 533.64 416.08 535.82 416.18 537.27 415.97 540.18 414.92 541.63 413.95 542.97 412.78 546.36 408.68 550.60 403.12 557.87 392.11 558.35 391.64 558.84 391.41 559.81 391.09 560.66 390.99 561.50 391.32 564.05 393.24 573.26 401.15 576.65 403.83 581.01 406.62 586.95 409.88 592.64 412.51 595.92 413.77 598.58 414.63 603.43 415.75 607.06 416.14 609.24 416.12 610.82 415.73 612.76 414.99 614.21 414.04 615.67 412.78 619.06 408.68 623.30 403.12 630.57 392.11 631.05 391.64 631.54 391.41 632.51 391.09 633.36 390.99 634.20 391.32 636.75 393.24 645.72 400.95 648.87 403.47 652.26 405.75 656.62 408.26 662.92 411.48 669.10 413.94 674.67 415.49 679.40 416.11" stroke="#7E2F8E" stroke-width="2.0" fill="none" stroke-linejoin="round"/>
<path d="M49.50 749.80L50.59 755.44 52.16 762.24 56.76 779.17 58.58 784.43 60.51 789.44 62.21 793.24 63.78 796.12 65.23 784.46 68.02 754.29 68.38 751.93 69.59 750.47 70.19 750.07 70.80 749.85 78.18 749.80" stroke="#0072BD" stroke-width="1.2" fill="none" stroke-linejoin="round" stroke-dasharray="16 10" stroke-opacity="0.85"/>
<path d="M78.20 749.80L97.91 749.80 99.00 755.44 100.57 762.24 105.17 779.17 106.98 784.43 108.92 789.44 110.62 793.24 112.19 796.12 113.64 784.46 116.42 754.29 116.79 751.93 117.39 751.09 118.12 750.38 118.72 750.01 119.45 749.81 133.37 749.80" stroke="#0072BD" stroke-width="1.2" fill="none" stroke-linejoin="round" stroke-dasharray="16 10" stroke-opacity="0.85"/>
<path d="M133.40 749.80L146.32 749.80 147.41 755.44 148.98 762.24 153.58 779.17 155.39 784.43 157.33 789.44 159.02 793.24 160.60 796.12 162.05 784.46 164.83 754.29 165.20 751.93 165.80 751.09 166.53 750.38 167.13 750.01 167.86 749.81 188.07 749.80" stroke="#0072BD" stroke-width="1.2" fill="none" stroke-linejoin="round" stroke-dasharray="16 10" stroke-opacity="0.85"/>
<path d="M188.10 749.80L194.72 749.80 195.81 755.44 197.39 762.24 201.99 779.17 203.80 784.43 205.74 789.44 207.43 793.24 209.01 796.12 210.46 784.46 213.48 752.35 213.73 751.74 214.57 750.69 215.30 750.13 216.15 749.83" stroke="#0072BD" stroke-width="1.2" fill="none" stroke-linejoin="round" stroke-dasharray="16 10" stroke-opacity="0.85"/>
<path d="M216.20 749.83L243.13 749.80 244.22 755.44 245.80 762.24 250.39 779.17 252.21 784.43 254.15 789.44 255.84 793.24 257.41 796.12 258.87 784.46 261.89 752.35 262.01 751.93 262.86 750.82 263.59 750.21 264.31 749.88 270.48 749.80" stroke="#0072BD" stroke-width="1.2" fill="none" stroke-linejoin="round" stroke-dasharray="16 10" stroke-opacity="0.85"/>
<path d="M270.50 749.80L291.54 749.80 292.63 755.44 294.20 762.24 298.80 779.17 300.62 784.43 302.55 789.44 304.25 793.24 305.82 796.12 307.27 784.46 310.06 754.29 310.42 751.93 311.63 750.47 312.24 750.07 312.96 749.83 326.15 749.80" stroke="#0072BD" stroke-width="1.2" fill="none" stroke-linejoin="round" stroke-dasharray="16 10" stroke-opacity="0.85"/>
<path d="M326.10 749.80L339.95 749.80" stroke="#0072BD" stroke-width="1.2" fill="none" stroke-linejoin="round" stroke-dasharray="16 10" stroke-opacity="0.85"/>
<path d="M49.50 743.40L51.07 752.47 52.40 759.10 53.74 764.54 55.07 768.61 56.76 772.51 58.70 775.82 61.60 779.46 62.81 780.60 64.02 781.39 67.17 744.00 67.77 738.17 68.14 736.07 68.38 735.46 69.47 734.57 70.44 734.21 71.40 734.27 72.49 734.63 76.97 737.19 81.69 739.23 84.72 740.37 91.86 742.32 95.00 742.96 97.91 743.40 99.48 752.47 100.81 759.10 102.14 764.54 103.48 768.61 105.17 772.51 107.11 775.82 110.01 779.46 111.22 780.60 112.43 781.39 115.58 744.00 116.18 738.17 116.55 736.07 116.79 735.46 117.76 734.65 118.72 734.23 119.69 734.25 120.90 734.63 125.38 737.19 130.22 739.28 133.25 740.41 140.39 742.34 146.32 743.40 147.89 752.47 149.22 759.10 150.55 764.54 151.88 768.61 153.58 772.51 155.51 775.82 158.42 779.46 159.63 780.60 160.84 781.39 163.99 744.00 164.59 738.17 164.95 736.07 165.20 735.46 166.16 734.65 167.13 734.23 168.10 734.25 169.31 734.63 173.79 737.19 178.63 739.28 181.65 740.41 188.79 742.34 194.72 743.40 196.30 752.47 197.63 759.10 198.96 764.54 200.29 768.61 201.99 772.51 203.92 775.82 206.83 779.46 208.04 780.60 209.25 781.39 212.39 744.00 213.00 738.17 213.36 736.07 213.60 735.46 214.45 734.73 215.30 734.30 216.39 734.23 217.60 734.58 222.20 737.19 227.04 739.28 230.18 740.45 237.32 742.37 243.13 743.40 244.71 752.47 246.04 759.10 247.37 764.54 248.70 768.61 250.39 772.51 252.33 775.82 255.24 779.46 256.45 780.60 257.66 781.39 261.29 739.14 261.89 735.67 262.50 735.01 263.34 734.44 264.43 734.20 265.89 734.53 267.10 735.11 270.61 737.19 275.57 739.33 278.83 740.53 285.85 742.40 291.54 743.40 293.11 752.47 294.45 759.10 295.78 764.54 297.11 768.61 298.80 772.51 300.74 775.82 303.64 779.46 304.85 780.60 306.06 781.39 309.33 742.66 309.94 737.33 310.18 736.07 310.42 735.46 311.27 734.73 311.99 734.34 312.72 734.20 313.69 734.33 315.26 734.98 319.01 737.19 326.40 740.25 333.78 742.29 337.05 742.96 339.95 743.40" stroke="#D95319" stroke-width="2.0" fill="none" stroke-linejoin="round"/>
<path d="M49.50 790.69L56.28 823.96 63.78 856.20 65.11 846.90 66.56 834.62 68.14 817.07 68.62 814.84 69.59 812.35 71.04 810.14 72.86 808.21 76.97 805.05 81.57 801.08 84.96 798.39 87.86 796.29 91.25 794.16 94.76 792.20 97.91 790.69 104.69 823.96 112.19 856.20 113.52 846.90 114.97 834.62 116.55 817.07 117.03 814.84 118.00 812.35 119.45 810.14 121.27 808.21 125.38 805.05 129.98 801.08 133.37 798.39 136.27 796.29 139.66 794.16 143.17 792.20 146.32 790.69 153.09 823.96 160.60 856.20 161.93 846.90 163.38 834.62 164.95 817.07 165.44 814.84 166.41 812.35 167.86 810.14 169.67 808.21 173.79 805.05 178.39 801.08 181.78 798.39 184.68 796.29 188.07 794.16 191.58 792.20 194.72 790.69 201.50 823.96 209.01 856.20 210.34 846.90 211.79 834.62 213.36 817.07 213.85 814.84 214.81 812.35 216.27 810.14 217.96 808.32 222.32 804.95 228.37 799.80 233.69 795.89 237.45 793.60 240.83 791.77 243.13 790.69 249.91 823.96 257.41 856.20 258.75 846.90 260.20 834.62 261.77 817.07 262.25 814.84 263.22 812.35 264.68 810.14 266.49 808.21 270.61 805.05 275.20 801.08 278.59 798.39 281.50 796.29 284.89 794.16 288.40 792.20 291.54 790.69 298.32 823.96 305.82 856.20 307.15 846.90 308.61 834.62 310.18 817.07 310.66 814.84 311.63 812.35 313.08 810.14 314.90 808.21 319.01 805.05 323.61 801.08 327.00 798.39 329.91 796.29 333.29 794.16 336.80 792.20 339.95 790.69" stroke="#EDB120" stroke-width="2.0" fill="none" stroke-linejoin="round"/>
<path d="M49.50 702.76L50.59 703.15 51.44 703.14 52.28 702.75 53.37 701.93 54.46 700.50 56.40 696.76 58.46 692.08 60.15 687.33 63.05 677.86 64.99 670.43 65.84 668.80 66.20 668.40 66.44 668.31 66.93 668.47 67.41 668.89 70.07 672.12 72.25 675.38 74.43 679.62 76.00 682.04 79.76 686.81 83.26 690.81 87.02 694.54 90.65 697.67 96.46 701.98 98.15 702.87 99.12 703.17 99.72 703.17 100.45 702.89 101.78 701.93 102.27 701.42 103.35 699.62 105.53 695.23 107.35 690.83 109.16 685.44 111.95 676.16 113.40 670.43 114.25 668.80 114.61 668.40 114.85 668.31 115.34 668.47 115.82 668.89 118.48 672.12 120.66 675.38 122.84 679.62 124.41 682.04 128.16 686.81 131.67 690.81 135.42 694.54 139.06 697.67 144.86 701.98 146.56 702.87 147.53 703.17 148.13 703.17 148.86 702.89 150.19 701.93 150.67 701.42 151.76 699.62 153.94 695.23 155.76 690.83 157.57 685.44 160.36 676.16 161.81 670.43 162.65 668.80 163.02 668.40 163.26 668.31 163.74 668.47 164.23 668.89 166.89 672.12 169.07 675.38 171.25 679.62 172.82 682.04 175.97 686.08 179.96 690.68 183.71 694.43 187.34 697.57 193.27 701.98 194.85 702.82 195.81 703.15 196.54 703.17 197.15 702.96 197.99 702.41 198.96 701.57 200.05 699.85 202.35 695.23 204.16 690.83 205.98 685.44 208.76 676.16 210.22 670.43 211.06 668.80 211.43 668.40 211.67 668.31 212.15 668.47 212.64 668.89 215.30 672.12 217.48 675.38 219.66 679.62 221.23 682.04 224.25 685.94 228.25 690.55 231.88 694.20 235.51 697.38 241.56 701.91 243.98 703.09 244.71 703.19 245.43 703.01 246.40 702.41 247.37 701.57 248.46 699.85 250.64 695.49 252.57 690.83 254.27 685.82 257.05 676.58 258.62 670.43 259.47 668.80 259.83 668.40 260.08 668.31 260.56 668.47 261.04 668.89 263.59 671.96 265.89 675.38 268.06 679.62 269.76 682.21 273.63 687.11 277.14 691.07 281.13 694.99 284.76 698.04 290.09 701.98 291.90 702.92 293.11 703.19 293.72 703.06 294.33 702.75 295.90 701.42 296.99 699.62 299.17 695.23 300.98 690.83 302.80 685.44 305.58 676.16 307.03 670.43 307.64 669.19 308.12 668.50 308.48 668.31 308.85 668.40 309.45 668.89 311.27 671.04 313.08 673.49 314.54 675.80 316.59 679.83 318.41 682.55 320.83 685.64 324.34 689.76 327.97 693.51 331.60 696.79 338.26 701.82 339.95 702.76" stroke="#7E2F8E" stroke-width="2.0" fill="none" stroke-linejoin="round"/>
<path d="M388.60 749.80L389.57 754.01 390.78 760.70 392.24 771.49 392.84 775.09 395.63 787.78 397.32 796.13 398.54 800.74 401.56 809.90 402.78 814.34 404.59 795.88 407.14 764.39 407.62 756.58 408.11 753.37 408.47 752.13 409.08 751.12 409.68 750.52 410.77 750.01 411.62 749.81 433.31 749.80" stroke="#0072BD" stroke-width="1.2" fill="none" stroke-linejoin="round" stroke-dasharray="16 10" stroke-opacity="0.85"/>
<path d="M433.30 749.80L437.07 749.80 438.04 754.01 439.25 760.70 440.70 771.49 441.31 775.09 444.09 787.78 445.79 796.13 447.00 800.74 450.03 809.90 451.24 814.34 453.06 795.88 455.61 764.39 456.09 756.58 456.57 753.37 456.94 752.13 457.54 751.12 458.15 750.52 459.24 750.01 460.09 749.81 477.78 749.80" stroke="#0072BD" stroke-width="1.2" fill="none" stroke-linejoin="round" stroke-dasharray="16 10" stroke-opacity="0.85"/>
<path d="M477.80 749.80L485.53 749.80 486.50 754.01 487.71 760.70 489.17 771.49 489.77 775.09 492.56 787.78 494.26 796.13 495.47 800.74 498.50 809.90 499.71 814.34 501.53 795.88 504.07 764.39 504.56 756.58 504.92 754.01 505.28 752.43 505.89 751.28 506.50 750.61 507.46 750.11 508.43 749.83 523.22 749.80" stroke="#0072BD" stroke-width="1.2" fill="none" stroke-linejoin="round" stroke-dasharray="16 10" stroke-opacity="0.85"/>
<path d="M523.20 749.80L534.00 749.80 534.97 754.01 536.18 760.70 537.63 771.49 538.24 775.09 541.03 787.78 542.72 796.13 543.94 800.74 546.96 809.90 548.18 814.34 549.99 795.88 552.54 764.39 553.02 756.58 553.39 754.01 553.75 752.43 554.23 751.46 554.84 750.72 555.69 750.21 556.78 749.85 567.44 749.80" stroke="#0072BD" stroke-width="1.2" fill="none" stroke-linejoin="round" stroke-dasharray="16 10" stroke-opacity="0.85"/>
<path d="M567.50 749.80L582.47 749.80 583.44 754.01 584.65 760.70 586.10 771.49 586.71 775.09 589.49 787.78 591.19 796.13 592.40 800.74 595.43 809.90 596.64 814.34 598.46 795.88 601.01 764.39 601.49 756.58 602.10 752.85 602.46 751.89 603.19 750.83 603.67 750.45 604.76 749.97 605.73 749.80 611.91 749.80" stroke="#0072BD" stroke-width="1.2" fill="none" stroke-linejoin="round" stroke-dasharray="16 10" stroke-opacity="0.85"/>
<path d="M611.90 749.80L630.93 749.80 631.90 754.01 633.11 760.70 634.57 771.49 635.17 775.09 637.96 787.78 639.66 796.13 640.87 800.74 643.90 809.90 645.11 814.34 646.81 797.28 649.47 764.39 649.96 756.58 650.32 754.01 650.80 752.13 651.41 751.12 652.02 750.52 652.99 750.06 653.83 749.83 656.74 749.80" stroke="#0072BD" stroke-width="1.2" fill="none" stroke-linejoin="round" stroke-dasharray="16 10" stroke-opacity="0.85"/>
<path d="M656.70 749.80L679.40 749.80" stroke="#0072BD" stroke-width="1.2" fill="none" stroke-linejoin="round" stroke-dasharray="16 10" stroke-opacity="0.85"/>
<path d="M388.60 741.37L391.63 759.09 394.05 771.20 395.51 777.27 397.57 783.28 399.63 788.31 401.32 791.38 402.17 792.41 402.90 792.98 405.68 755.49 407.26 731.94 407.50 730.08 407.74 729.26 408.71 728.53 409.56 728.22 410.53 728.27 411.50 728.66 414.89 731.01 419.26 733.61 421.80 734.92 429.31 738.18 435.25 740.39 437.07 741.37 440.10 759.09 442.52 771.20 443.97 777.27 446.03 783.28 448.09 788.31 449.79 791.38 450.64 792.41 451.36 792.98 454.15 755.49 455.73 731.94 455.97 730.08 456.21 729.26 457.06 728.60 457.91 728.25 458.88 728.24 459.97 728.66 463.36 731.01 467.72 733.61 470.39 734.98 478.02 738.28 483.72 740.39 485.53 741.37 488.56 759.09 490.99 771.20 492.44 777.27 494.50 783.28 496.56 788.31 498.26 791.38 499.10 792.41 499.83 792.98 502.62 755.49 504.19 731.94 504.44 730.08 504.68 729.26 505.53 728.60 506.25 728.28 507.22 728.22 508.43 728.66 511.83 731.01 516.31 733.68 518.98 735.03 526.61 738.33 532.18 740.39 534.00 741.37 537.03 759.09 539.45 771.20 540.91 777.27 542.97 783.28 545.03 788.31 546.72 791.38 547.57 792.41 548.30 792.98 551.08 755.49 552.54 733.20 553.02 729.52 553.51 728.94 554.48 728.36 555.57 728.20 556.66 728.53 560.17 730.93 566.35 734.51 573.86 737.84 580.65 740.39 582.47 741.37 585.50 759.09 587.92 771.20 589.37 777.27 591.43 783.28 593.49 788.31 595.19 791.38 596.04 792.41 596.76 792.98 599.55 755.49 601.01 733.20 601.49 729.52 601.61 729.26 602.46 728.60 603.67 728.19 604.28 728.24 605.00 728.48 606.09 729.10 608.64 730.93 614.82 734.51 622.33 737.84 629.12 740.39 630.93 741.37 633.96 759.09 636.39 771.20 637.84 777.27 639.90 783.28 641.96 788.31 643.66 791.38 644.50 792.41 645.23 792.98 648.02 755.49 649.35 734.65 649.71 730.89 650.08 729.26 650.93 728.60 651.77 728.25 652.50 728.20 653.35 728.43 654.44 729.02 657.23 731.01 663.28 734.51 670.80 737.84 677.58 740.39 679.40 741.37" stroke="#D95319" stroke-width="2.0" fill="none" stroke-linejoin="round"/>
<path d="M388.60 793.99L391.02 812.21 393.33 827.63 395.02 837.47 399.14 858.45 400.96 869.83 402.90 883.38 403.02 883.46 403.75 876.34 405.44 857.45 407.02 833.64 407.62 827.20 408.59 823.48 409.93 820.45 412.71 815.95 414.17 814.05 415.98 811.98 420.10 807.73 424.22 803.99 431.13 798.36 437.07 793.99 439.61 813.07 441.91 828.39 443.49 837.47 447.61 858.45 449.43 869.83 451.36 883.38 451.49 883.46 454.03 856.00 455.85 829.22 456.21 826.54 457.30 822.80 458.51 820.24 461.30 815.79 463.60 812.92 467.36 808.93 470.75 805.69 474.99 802.07 480.44 797.70 485.53 793.99 488.08 813.07 490.38 828.39 491.96 837.47 496.07 858.45 497.89 869.83 499.83 883.38 499.95 883.46 502.50 856.00 504.31 829.22 504.68 826.54 505.77 822.80 506.98 820.24 509.77 815.79 512.07 812.92 515.83 808.93 519.22 805.69 523.46 802.07 528.91 797.70 534.00 793.99 536.54 813.07 538.85 828.39 540.42 837.47 544.54 858.45 546.36 869.83 548.30 883.38 548.42 883.46 550.96 856.00 552.78 829.22 553.14 826.54 554.23 822.80 555.45 820.24 558.23 815.79 560.54 812.92 564.29 808.93 567.68 805.69 571.93 802.07 577.38 797.70 582.47 793.99 585.01 813.07 587.31 828.39 588.89 837.47 593.01 858.45 594.83 869.83 596.76 883.38 596.89 883.46 599.43 856.00 600.88 833.64 601.49 827.20 602.46 823.48 603.67 820.67 606.58 815.95 608.03 814.05 609.73 812.11 613.97 807.73 618.09 803.99 625.00 798.36 630.93 793.99 633.48 813.07 635.78 828.39 637.36 837.47 641.47 858.45 643.29 869.83 645.23 883.38 645.35 883.46 647.90 856.00 649.71 829.22 650.08 826.54 651.17 822.80 652.38 820.24 655.17 815.79 657.47 812.92 661.22 808.93 664.62 805.69 668.86 802.07 674.31 797.70 679.40 793.99" stroke="#EDB120" stroke-width="2.0" fill="none" stroke-linejoin="round"/>
<path d="M388.60 696.97L389.45 697.37 390.05 697.47 390.66 697.31 391.27 696.88 393.20 694.50 394.42 691.75 396.48 685.48 397.81 680.81 400.96 668.53 404.84 651.96 405.20 650.76 405.56 650.28 405.81 650.39 406.17 650.82 407.38 652.82 412.11 663.46 415.50 670.42 417.44 673.75 420.22 677.94 423.01 681.81 425.56 685.02 433.67 693.95 436.22 696.46 437.43 697.16 438.28 697.46 438.88 697.41 439.61 696.99 441.43 694.86 442.28 693.29 443.37 690.35 445.06 685.09 446.52 679.91 449.67 667.54 453.30 651.96 453.67 650.76 454.03 650.28 454.27 650.39 454.64 650.82 455.85 652.82 460.45 663.20 463.84 670.20 465.90 673.75 468.57 677.77 471.36 681.65 474.02 685.02 482.02 693.82 484.56 696.36 485.78 697.10 486.62 697.43 487.23 697.45 487.96 697.08 489.53 695.34 490.50 693.82 491.71 690.71 493.53 685.09 494.86 680.36 498.01 668.03 501.77 651.96 502.13 650.76 502.50 650.28 502.74 650.39 503.10 650.82 504.31 652.82 508.92 663.20 512.31 670.20 514.25 673.56 516.92 677.59 520.67 682.76 523.94 686.68 532.55 695.93 533.39 696.63 534.97 697.40 535.58 697.47 536.18 697.25 536.91 696.65 537.76 695.66 538.97 693.82 540.18 690.71 542.00 685.09 543.33 680.36 546.48 668.03 550.24 651.96 550.60 650.76 550.96 650.28 551.21 650.39 551.57 650.82 552.78 652.82 557.39 663.20 560.78 670.20 562.72 673.56 565.14 677.24 568.90 682.44 572.17 686.41 580.89 695.81 581.86 696.63 583.19 697.32 583.92 697.47 584.41 697.37 585.01 696.99 585.74 696.25 587.31 694.06 588.52 691.06 590.46 685.09 591.80 680.36 594.95 668.03 598.70 651.96 599.07 650.76 599.43 650.28 599.67 650.39 600.04 650.82 601.25 652.82 605.97 663.46 609.37 670.42 611.43 673.95 614.33 678.29 617.00 681.97 619.54 685.17 627.78 694.21 630.21 696.55 631.54 697.27 632.39 697.47 632.99 697.31 633.60 696.88 635.42 694.69 636.26 693.01 637.36 689.98 639.41 683.44 641.84 674.35 647.29 651.50 647.65 650.50 647.78 650.34 648.02 650.31 648.99 651.52 649.71 652.82 654.20 662.94 657.47 669.73 659.17 672.77 661.35 676.17 664.98 681.32 668.37 685.59 676.49 694.47 678.31 696.26 679.40 696.97" stroke="#7E2F8E" stroke-width="2.0" fill="none" stroke-linejoin="round"/>
<rect x="207.0" y="177.6" width="123.00" height="90.80" fill="#fff" stroke="#646464" stroke-width="1"/>
<path d="M213.4 191.4H262.2" stroke="#0072BD" stroke-width="1.2" stroke-dasharray="16.4 9.9" stroke-opacity="0.85"/>
<g font-family="Liberation Sans" font-size="12.35" fill="#1e1e1e" stroke="#1e1e1e" stroke-width="0.23"><text transform="translate(270.85 194.80) scale(0.9 1.0)" text-anchor="middle">P</text></g>
<g font-family="Liberation Sans" font-size="9.6" fill="#1e1e1e" stroke="#1e1e1e" stroke-width="0.18"><text transform="translate(276.50 199.50) scale(0.88 1.0)" text-anchor="middle">I</text><text transform="translate(281.55 199.50) scale(0.88 1.0)" text-anchor="middle">N</text><text transform="translate(288.47 199.50) scale(0.88 1.0)" text-anchor="middle">S</text><text transform="translate(295.12 199.50) scale(0.88 1.0)" text-anchor="middle">P</text></g>
<path d="M213.4 212.6H262.2" stroke="#D95319" stroke-width="2.0"/>
<g font-family="Liberation Sans" font-size="12.35" fill="#1e1e1e" stroke="#1e1e1e" stroke-width="0.23"><text transform="translate(270.85 216.00) scale(0.9 1.0)" text-anchor="middle">P</text></g>
<g font-family="Liberation Sans" font-size="9.6" fill="#1e1e1e" stroke="#1e1e1e" stroke-width="0.18"><text transform="translate(276.23 220.70) scale(0.88 1.0)" text-anchor="middle">l</text><text transform="translate(280.22 220.70) scale(0.88 1.0)" text-anchor="middle">u</text><text transform="translate(285.81 220.70) scale(0.88 1.0)" text-anchor="middle">n</text><text transform="translate(291.40 220.70) scale(0.88 1.0)" text-anchor="middle">g</text><text transform="translate(296.72 220.70) scale(0.88 1.0)" text-anchor="middle">s</text></g>
<path d="M213.4 233.9H262.2" stroke="#EDB120" stroke-width="2.0"/>
<g font-family="Liberation Sans" font-size="12.35" fill="#1e1e1e" stroke="#1e1e1e" stroke-width="0.23"><text transform="translate(270.85 237.30) scale(0.9 1.0)" text-anchor="middle">P</text></g>
<g font-family="Liberation Sans" font-size="9.6" fill="#1e1e1e" stroke="#1e1e1e" stroke-width="0.18"><text transform="translate(277.84 242.00) scale(0.88 1.0)" text-anchor="middle">p</text><text transform="translate(281.82 242.00) scale(0.88 1.0)" text-anchor="middle">l</text><text transform="translate(285.81 242.00) scale(0.88 1.0)" text-anchor="middle">e</text><text transform="translate(291.40 242.00) scale(0.88 1.0)" text-anchor="middle">u</text><text transform="translate(295.92 242.00) scale(0.88 1.0)" text-anchor="middle">r</text><text transform="translate(300.43 242.00) scale(0.88 1.0)" text-anchor="middle">a</text><text transform="translate(304.42 242.00) scale(0.88 1.0)" text-anchor="middle">l</text></g>
<path d="M213.4 254.7H262.2" stroke="#7E2F8E" stroke-width="2.0"/>
<g font-family="Liberation Sans" font-size="12.35" fill="#1e1e1e" stroke="#1e1e1e" stroke-width="0.23"><text transform="translate(270.85 258.10) scale(0.9 1.0)" text-anchor="middle">P</text></g>
<g font-family="Liberation Sans" font-size="9.6" fill="#1e1e1e" stroke="#1e1e1e" stroke-width="0.18"><text transform="translate(276.50 262.80) scale(0.88 1.0)" text-anchor="middle">t</text><text transform="translate(279.68 262.80) scale(0.88 1.0)" text-anchor="middle">r</text><text transform="translate(284.20 262.80) scale(0.88 1.0)" text-anchor="middle">a</text><text transform="translate(289.79 262.80) scale(0.88 1.0)" text-anchor="middle">n</text><text transform="translate(295.11 262.80) scale(0.88 1.0)" text-anchor="middle">s</text><text transform="translate(300.43 262.80) scale(0.88 1.0)" text-anchor="middle">p</text><text transform="translate(306.02 262.80) scale(0.88 1.0)" text-anchor="middle">u</text><text transform="translate(310.00 262.80) scale(0.88 1.0)" text-anchor="middle">l</text><text transform="translate(315.32 262.80) scale(0.88 1.0)" text-anchor="middle">m</text><text transform="translate(320.90 262.80) scale(0.88 1.0)" text-anchor="middle">.</text></g>
</svg>
</body></html>
